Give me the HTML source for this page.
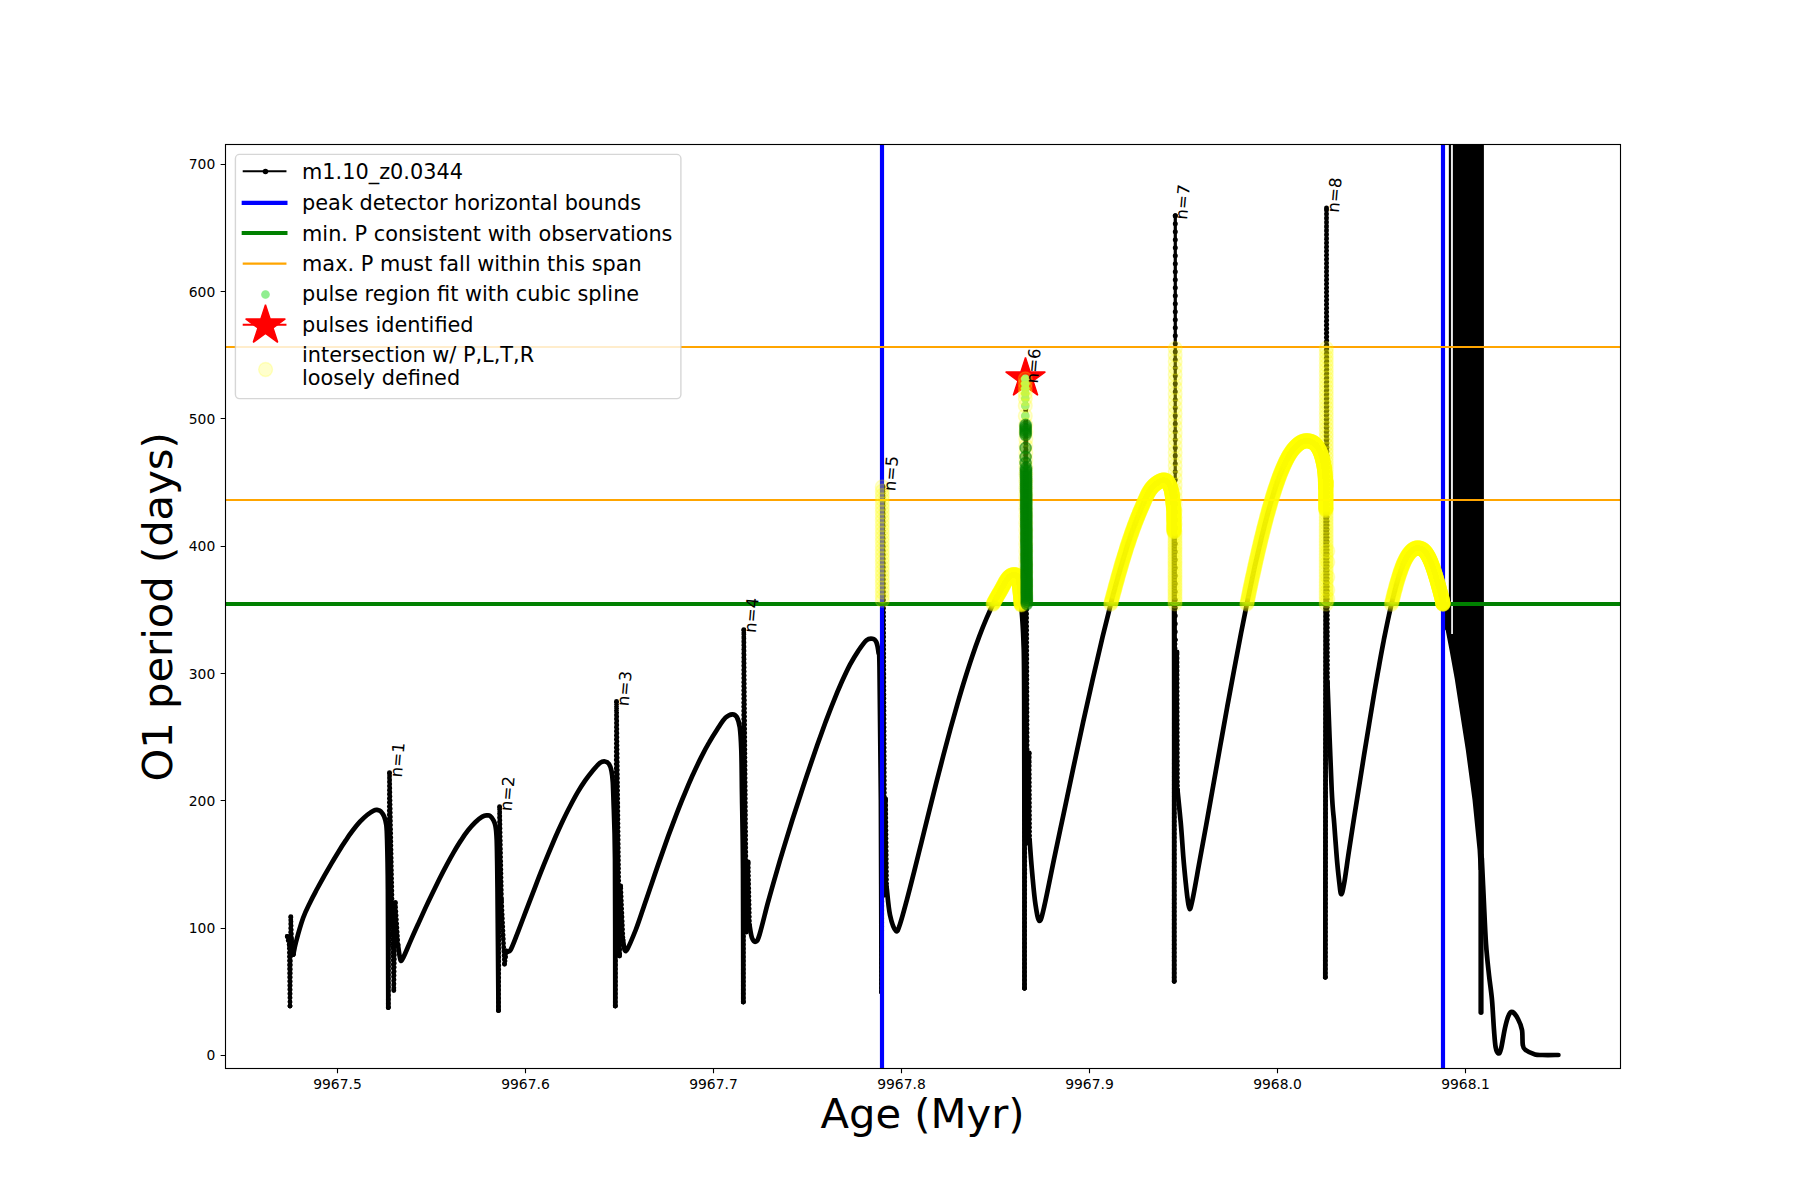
<!DOCTYPE html>
<html lang="en"><head><meta charset="utf-8"><title>O1 period vs Age</title>
<style>html,body{margin:0;padding:0;background:#fff}body{width:1800px;height:1200px;overflow:hidden}svg{display:block}text{font-family:'DejaVu Sans','Liberation Sans',sans-serif;fill:#000}</style></head>
<body>
<svg width="1800" height="1200" viewBox="0 0 1800 1200">
<rect width="1800" height="1200" fill="#fff"/>
<clipPath id="ax"><rect x="225" y="144" width="1395" height="924"/></clipPath>
<g clip-path="url(#ax)">
<g fill="none" stroke="#000" stroke-width="4.7" stroke-linecap="round" stroke-linejoin="round">
<path d="M287.3 936.5 L289.3 945 L290 1006 L290.8 916.7 L291.6 940 L293.3 954.5" stroke-width="2.7"/>
<path d="M287.3 936.5 L289.3 945 L290 1006 L290.8 916.7 L291.6 940 L293.3 954.5" stroke-width="4.9" stroke-dasharray="0 4.1"/>
<path d="M287.3 936.5h0M289.3 945h0M290 1006h0M290.8 916.7h0M291.6 940h0M293.3 954.5h0" stroke-width="4.9"/>
<path d="M293.3 954.5 C293.8 952.4 294.4 948 296 942 C297.6 935.9 300.7 924.7 303.1 918 C305.5 911.4 307.8 907.1 310.2 902.2 C312.6 897.2 315 892.9 317.3 888.5 C319.7 884 322.1 879.8 324.4 875.6 C326.8 871.4 329.2 867.3 331.5 863.3 C333.9 859.2 336.3 855.3 338.7 851.4 C341 847.6 343.4 843.9 345.8 840.4 C348.1 836.8 350.5 833.4 352.9 830.3 C355.2 827.2 357.6 824.3 360 821.7 C362.4 819.2 364.7 816.9 367.1 815 C369.5 813.1 372.5 811.2 374.2 810.4 C375.9 809.5 376.4 809.8 377.5 810 C378.6 810.2 379.7 810.2 380.8 811.3 C381.9 812.4 383.3 814.4 384.2 816.7 C385.1 819 385.8 821.1 386.3 825 C386.8 828.9 386.8 829.3 387.1 840 C387.4 850.7 387.7 861.1 387.9 889 C388.1 916.9 388.2 987.8 388.3 1007.5"/>
<path d="M388.3 1007.5 L389.5 772.8 L393.8 990.5 L395.3 902.5 L398 945" stroke-width="2.7"/>
<path d="M388.3 1007.5 L389.5 772.8 L393.8 990.5 L395.3 902.5 L398 945" stroke-width="4.9" stroke-dasharray="0 4.1"/>
<path d="M388.3 1007.5h0M389.5 772.8h0M393.8 990.5h0M395.3 902.5h0M398 945h0" stroke-width="4.9"/>
<path d="M398 945 C398.4 947.5 399.6 958 400.5 960 C401.4 962 401.8 960.3 403.5 957.1 C405.2 953.8 408.3 946 410.7 940.6 C413.1 935.2 415.5 929.8 417.9 924.6 C420.3 919.3 422.7 914 425 908.9 C427.4 903.7 429.8 898.6 432.2 893.7 C434.6 888.7 437 883.8 439.4 879 C441.8 874.2 444.2 869.5 446.6 865.1 C449 860.6 451.4 856.2 453.8 852.1 C456.2 848 458.6 844 461 840.4 C463.3 836.7 465.7 833.3 468.1 830.3 C470.5 827.2 472.9 824.5 475.3 822.2 C477.7 819.9 480.6 817.8 482.5 816.6 C484.4 815.5 485.4 815.5 486.7 815.4 C487.9 815.3 488.9 815 490 815.8 C491.1 816.6 492.4 818.3 493.3 820 C494.2 821.7 494.8 822.5 495.4 825.8 C496 829.1 496.3 829.4 496.7 840 C497.1 850.6 497.2 860.8 497.5 889.2 C497.8 917.6 498.3 990.3 498.5 1010.5"/>
<path d="M498.5 1010.5 L499.6 806.7 L501.5 900 L504.5 964.3 L506.5 951" stroke-width="2.7"/>
<path d="M498.5 1010.5 L499.6 806.7 L501.5 900 L504.5 964.3 L506.5 951" stroke-width="4.9" stroke-dasharray="0 4.1"/>
<path d="M498.5 1010.5h0M499.6 806.7h0M501.5 900h0M504.5 964.3h0M506.5 951h0" stroke-width="4.9"/>
<path d="M506.5 951 C507.2 950.8 508.6 953.2 510.5 950 C512.4 946.8 515.5 938.1 518 931.8 C520.4 925.6 522.9 918.9 525.4 912.4 C527.9 905.9 530.4 899.3 532.9 892.9 C535.4 886.4 537.8 879.9 540.3 873.6 C542.8 867.3 545.3 861.1 547.8 855.1 C550.3 849.1 552.8 843.2 555.2 837.5 C557.7 831.8 560.2 826.3 562.7 821 C565.2 815.8 567.7 810.7 570.2 806 C572.7 801.2 575.1 796.7 577.6 792.4 C580.1 788.2 582.6 784.3 585.1 780.7 C587.6 777.1 590.1 773.9 592.5 771 C595 768 597.9 764.5 600 762.9 C602.1 761.4 603.5 761.3 605 761.5 C606.5 761.7 607.9 762.4 609 764 C610.1 765.6 610.9 768 611.5 771 C612.1 774 612.5 777.2 612.8 782 C613.1 786.8 613.1 787.2 613.5 800 C613.9 812.8 614.7 824.7 615 859 C615.3 893.3 615.2 981.5 615.3 1006"/>
<path d="M615.3 1006 L616.5 701.5 L619.6 956 L620.7 886 L623 940" stroke-width="2.7"/>
<path d="M615.3 1006 L616.5 701.5 L619.6 956 L620.7 886 L623 940" stroke-width="4.9" stroke-dasharray="0 4.1"/>
<path d="M615.3 1006h0M616.5 701.5h0M619.6 956h0M620.7 886h0M623 940h0" stroke-width="4.9"/>
<path d="M623 940 C623.3 941.7 624 948.5 624.7 950 C625.5 951.5 625.7 952.2 627.5 948.9 C629.3 945.5 632.9 937 635.7 930 C638.4 923 641.1 914.6 643.8 906.7 C646.6 898.9 649.3 890.7 652 882.7 C654.7 874.7 657.4 866.7 660.2 858.9 C662.9 851.1 665.6 843.4 668.3 835.9 C671.1 828.5 673.8 821.2 676.5 814.1 C679.2 807.1 681.9 800.2 684.7 793.7 C687.4 787.1 690.1 780.8 692.8 774.8 C695.6 768.8 698.3 763 701 757.6 C703.7 752.2 706.4 747.1 709.2 742.4 C711.9 737.6 714.6 733.3 717.3 729.2 C720.1 725 723 720.2 725.5 717.7 C728 715.3 730.4 714.4 732.3 714.3 C734.2 714.2 735.5 714.8 736.8 717 C738 719.2 739 722 739.8 727.5 C740.5 733 740.9 738.8 741.3 750 C741.7 761.2 741.7 775.2 742 795 C742.3 814.8 742.8 834 743 868.5 C743.2 903 743.2 979.8 743.3 1002"/>
<path d="M743.3 1002 L743.8 629.7 L746.5 932 L748.2 862 L749.5 925" stroke-width="2.7"/>
<path d="M743.3 1002 L743.8 629.7 L746.5 932 L748.2 862 L749.5 925" stroke-width="4.9" stroke-dasharray="0 4.1"/>
<path d="M743.3 1002h0M743.8 629.7h0M746.5 932h0M748.2 862h0M749.5 925h0" stroke-width="4.9"/>
<path d="M749.5 925 C749.9 927.2 750.9 935.2 752 938 C753.1 940.8 754.6 942.1 755.9 941.6 C757.1 941.1 757.5 941.1 759.5 934.7 C761.5 928.4 765 913.5 767.7 903.4 C770.5 893.3 773.2 883.6 776 874.1 C778.7 864.6 781.4 855.5 784.2 846.4 C786.9 837.4 789.7 828.5 792.4 819.8 C795.2 811.1 797.9 802.6 800.7 794.2 C803.4 785.8 806.1 777.5 808.9 769.4 C811.6 761.3 814.4 753.3 817.1 745.5 C819.9 737.8 822.6 730.1 825.3 722.7 C828.1 715.4 830.8 708.1 833.6 701.3 C836.3 694.5 839.1 687.9 841.8 681.8 C844.6 675.7 847.3 669.9 850 664.7 C852.8 659.5 855.5 654.9 858.3 650.8 C861 646.8 864.1 642.2 866.5 640.2 C868.9 638.2 870.9 638.4 872.5 638.7 C874.1 639 875.3 639.7 876.3 642 C877.3 644.3 878 648.2 878.5 652.5 C879 656.8 879.1 642.9 879.5 667.5 C879.9 692.1 880.6 745.9 880.9 800 C881.2 854.1 881.4 960 881.5 992"/>
<path d="M881.5 992 L883 486.5 L884.8 895 L885.6 799 L886.6 887" stroke-width="2.7"/>
<path d="M881.5 992 L883 486.5 L884.8 895 L885.6 799 L886.6 887" stroke-width="4.9" stroke-dasharray="0 4.1"/>
<path d="M881.5 992h0M883 486.5h0M884.8 895h0M885.6 799h0M886.6 887h0" stroke-width="4.9"/>
<path d="M886.6 887 C887.2 891.7 888.4 907.7 890 915 C891.6 922.3 894.3 929.5 896 931 C897.7 932.5 898.1 929.6 900 924.2 C901.9 918.8 904.8 907.6 907.2 898.7 C909.6 889.7 912 880.1 914.4 870.6 C916.8 861.1 919.2 851.3 921.6 841.7 C924 832 926.4 822.2 928.8 812.6 C931.2 803 933.6 793.4 936 783.9 C938.4 774.5 940.8 765.1 943.2 756 C945.6 746.8 948 737.8 950.4 729 C952.8 720.2 955.2 711.6 957.6 703.3 C960 695 962.4 686.9 964.8 679.2 C967.2 671.5 969.6 664 972 656.9 C974.4 649.8 976.8 643 979.2 636.6 C981.6 630.2 984 624.2 986.4 618.6 C988.8 613 991.2 607.8 993.6 603.1 C996 598.4 998.4 594.5 1000.8 590.3 C1003.2 586.1 1005.7 580.6 1008 578 C1010.3 575.4 1013 574.5 1014.7 574.6 C1016.4 574.7 1017.5 575.6 1018.4 578.8 C1019.3 581.9 1019.8 589.4 1020.3 593.8 C1020.8 598.1 1020.7 597.3 1021.2 605 C1021.8 612.7 1022.9 624.2 1023.4 640 C1023.9 655.8 1024 642 1024.2 700 C1024.4 758 1024.5 940.2 1024.5 988.3"/>
<path d="M1024.5 988.3 L1025.7 378.8 L1027.5 843 L1029.2 753 L1029.6 839.7" stroke-width="2.7"/>
<path d="M1024.5 988.3 L1025.7 378.8 L1027.5 843 L1029.2 753 L1029.6 839.7" stroke-width="4.9" stroke-dasharray="0 4.1"/>
<path d="M1024.5 988.3h0M1025.7 378.8h0M1027.5 843h0M1029.2 753h0M1029.6 839.7h0" stroke-width="4.9"/>
<path d="M1029.6 839.7 C1030 845.5 1031.3 863.5 1032.3 874.3 C1033.3 885.1 1034.3 896.9 1035.5 904.7 C1036.7 912.5 1038 920.7 1039.4 921 C1040.9 921.3 1041.8 916.8 1044.2 906.6 C1046.6 896.4 1050.7 875.2 1053.9 859.7 C1057.2 844.2 1060.4 828.9 1063.7 813.5 C1066.9 798.2 1070.2 782.8 1073.4 767.6 C1076.6 752.4 1079.9 737.2 1083.1 722.3 C1086.4 707.4 1089.6 692.7 1092.9 678.4 C1096.1 664.1 1099.4 650.1 1102.6 636.7 C1105.9 623.2 1109.1 610.2 1112.3 597.9 C1115.6 585.6 1118.8 573.8 1122.1 562.9 C1125.3 552 1128.6 541.8 1131.8 532.6 C1135.1 523.4 1138.3 515.2 1141.5 507.8 C1144.8 500.4 1147.6 492.9 1151.3 488.3 C1155 483.6 1160.5 480.2 1163.7 480 C1166.9 479.8 1168.8 482.8 1170.4 487 C1171.9 491.2 1172.7 497.7 1173.3 505 C1173.9 512.3 1173.8 498.2 1174 530.7 C1174.2 563.2 1174.2 624.9 1174.2 700 C1174.2 775.1 1174.2 934.4 1174.2 981.3"/>
<path d="M1174.2 981.3 L1174.4 640" stroke-width="2.7"/>
<path d="M1174.2 981.3 L1174.4 640" stroke-width="4.9" stroke-dasharray="0 4.1"/>
<path d="M1174.2 981.3h0M1174.4 640h0" stroke-width="4.9"/>
<path d="M1175.3 215.8 L1175.2 640" stroke-width="3.2"/>
<path d="M1175.3 215.8 L1175.2 640" stroke-width="5" stroke-dasharray="0 8"/>
<path d="M1175.3 215.8h0" stroke-width="5"/>
<path d="M1175 640 L1176.3 780 L1177 652 L1177.5 790" stroke-width="2.7"/>
<path d="M1175 640 L1176.3 780 L1177 652 L1177.5 790" stroke-width="4.9" stroke-dasharray="0 4.1"/>
<path d="M1175 640h0M1176.3 780h0M1177 652h0M1177.5 790h0" stroke-width="4.9"/>
<path d="M1177.5 790 C1178 795.5 1179.8 812.2 1180.8 823.3 C1181.8 834.4 1182.5 846.7 1183.3 856.7 C1184.1 866.7 1185.1 876.4 1185.8 883.3 C1186.5 890.2 1186.9 894 1187.5 898.3 C1188.1 902.6 1188.7 908.7 1189.5 909 C1190.3 909.3 1190.8 907.6 1192.5 899.8 C1194.2 892 1197.1 874.8 1199.4 862.2 C1201.7 849.5 1204 836.7 1206.4 823.9 C1208.7 811 1211 798 1213.3 785.1 C1215.6 772.1 1217.9 759.1 1220.2 746.2 C1222.5 733.3 1224.8 720.3 1227.1 707.6 C1229.4 694.9 1231.8 682.2 1234.1 669.9 C1236.4 657.5 1238.7 645.3 1241 633.4 C1243.3 621.5 1245.6 609.9 1247.9 598.7 C1250.2 587.5 1252.5 576.6 1254.8 566.2 C1257.2 555.9 1259.5 545.9 1261.8 536.5 C1264.1 527.1 1266.4 518.2 1268.7 510 C1271 501.7 1273.3 494.1 1275.6 487.1 C1277.9 480.2 1280.2 473.9 1282.6 468.5 C1284.9 463.1 1287.2 458.4 1289.5 454.6 C1291.8 450.8 1294.1 448 1296.4 445.8 C1298.7 443.6 1301 442 1303.3 441.3 C1305.6 440.5 1308.1 440.6 1310.2 441.2 C1312.3 441.9 1314.3 442.8 1316.1 445 C1317.9 447.2 1319.7 450.3 1321.1 454.4 C1322.5 458.5 1323.8 464.1 1324.5 469.4 C1325.3 474.7 1325.4 479.7 1325.6 486.2 C1325.8 492.8 1325.8 456.5 1325.8 508.8 C1325.8 561 1325.6 721.9 1325.5 800 C1325.4 878.1 1325.4 947.7 1325.3 977.2"/>
<path d="M1325.3 977.2 L1326.5 208 L1327.5 683" stroke-width="2.7"/>
<path d="M1325.3 977.2 L1326.5 208 L1327.5 683" stroke-width="4.9" stroke-dasharray="0 4.1"/>
<path d="M1325.3 977.2h0M1326.5 208h0M1327.5 683h0" stroke-width="4.9"/>
<path d="M1327.5 683 C1328.2 700.8 1330.6 766.6 1331.7 790 C1332.8 813.4 1333.4 812.2 1334.2 823.3 C1335 834.4 1335.9 847 1336.7 856.7 C1337.5 866.4 1338.5 875.5 1339.2 881.7 C1340 888 1340.4 894 1341.2 894.2 C1342 894.4 1342.9 890.6 1344.2 883.2 C1345.5 875.7 1347.5 860.3 1349.2 849.4 C1350.8 838.5 1352.5 828.2 1354.1 817.7 C1355.8 807.2 1357.4 796.8 1359.1 786.4 C1360.7 776 1362.4 765.7 1364 755.4 C1365.7 745.1 1367.3 734.9 1369 724.8 C1370.6 714.8 1372.3 704.8 1373.9 695.1 C1375.6 685.4 1377.2 675.8 1378.9 666.7 C1380.5 657.5 1382.2 648.6 1383.8 640.1 C1385.5 631.6 1387.1 623.5 1388.8 615.9 C1390.5 608.3 1392.1 601.1 1393.8 594.6 C1395.4 588.1 1397.1 582.1 1398.7 576.8 C1400.4 571.6 1402 566.9 1403.7 563.1 C1405.3 559.3 1407 556.4 1408.6 554.1 C1410.3 551.8 1411.9 550.2 1413.6 549.2 C1415.2 548.2 1416.8 547.8 1418.6 548 C1420.4 548.2 1422.5 548.9 1424.3 550.7 C1426.1 552.5 1427.7 555.2 1429.4 558.7 C1431.1 562.2 1432.8 566.9 1434.5 572 C1436.1 577.1 1438.1 584 1439.5 589.3 C1440.9 594.6 1441.8 597.5 1443.1 604 C1444.4 610.5 1446.3 624 1447 628"/>
<path d="M1481.8 858 C1482.1 864.7 1483 883.7 1483.7 898 C1484.4 912.3 1485.1 931.2 1486 944 C1486.9 956.8 1488 965.7 1489 975 C1490 984.3 1491.2 990.8 1492 1000 C1492.8 1009.2 1493.4 1022.2 1494 1030 C1494.6 1037.8 1494.9 1043.1 1495.6 1047 C1496.3 1050.9 1497.5 1053.1 1498.4 1053.4 C1499.3 1053.7 1499.9 1053.2 1501 1049 C1502.1 1044.8 1503.7 1033.7 1505 1028 C1506.3 1022.3 1507.5 1017.7 1508.8 1015 C1510 1012.3 1511 1011.3 1512.5 1012 C1514 1012.7 1516.4 1016 1518 1019 C1519.6 1022 1521.2 1025.7 1522 1030 C1522.8 1034.3 1522.2 1041.7 1522.8 1045 C1523.4 1048.3 1523.6 1048.4 1525.6 1050 C1527.6 1051.6 1532.2 1053.6 1535 1054.4 C1537.8 1055.2 1538.6 1054.9 1542.5 1055 C1546.4 1055.1 1555.8 1055 1558.4 1055"/>
</g>
<path d="M1481 855 L1481 1012.3" fill="none" stroke="#000" stroke-width="5.2" stroke-linecap="round" stroke-linejoin="round"/>
<path d="M1452.9 140 L1483.9 140 L1483.9 860 L1481 870 L1478.6 870 L1477.5 850 L1472.5 800 L1465.8 750 L1458 700 L1454.8 679.3 L1449.5 650 L1445 626.8 L1443 612 L1443 604 L1451.2 604 L1451.2 634 L1452.9 634 Z" fill="#000"/>
<path d="M1449.9 140 V608" stroke="#000" stroke-width="2.1" fill="none"/>
<path d="M1452 140 V600" stroke="#999" stroke-width="0.35" fill="none"/>
<path d="M882 144V1068M1443 144V1068" stroke="#00f" stroke-width="4.17" fill="none"/>
<path d="M225 604H1620" stroke="#008000" stroke-width="4.17" fill="none"/>
<path d="M225 347H1620M225 500H1620" stroke="#ffa500" stroke-width="2.08" fill="none"/>
<path d="M1025.50 357.57 L1030.18 371.96 L1045.31 371.96 L1033.07 380.86 L1037.74 395.25 L1025.50 386.36 L1013.26 395.25 L1017.93 380.86 L1005.69 371.96 L1020.82 371.96Z" fill="#f00" stroke="#f00" stroke-width="1.39" stroke-linejoin="bevel"/>
<g fill="#90ee90" stroke="#90ee90" stroke-width="1.39">
<circle cx="1025.3" cy="378.8" r="3.65"/>
<circle cx="1025.3" cy="383.5" r="3.65"/>
<circle cx="1025.3" cy="388.5" r="3.65"/>
<circle cx="1025.3" cy="393.5" r="3.65"/>
<circle cx="1025.3" cy="398.5" r="3.65"/>
<circle cx="1025.3" cy="405.7" r="3.65"/>
<circle cx="1025.3" cy="415.9" r="3.65"/>
</g>
<g fill="#ff0" fill-opacity=".2" stroke="#ff0" stroke-opacity=".2" stroke-width="1.39">
<circle cx="882.3" cy="487" r="6.94"/>
<circle cx="882.3" cy="491.2" r="6.94"/>
<circle cx="882.3" cy="495.4" r="6.94"/>
<circle cx="882.3" cy="499.6" r="6.94"/>
<circle cx="882.3" cy="503.8" r="6.94"/>
<circle cx="882.3" cy="508" r="6.94"/>
<circle cx="882.3" cy="512.2" r="6.94"/>
<circle cx="882.3" cy="516.4" r="6.94"/>
<circle cx="882.3" cy="520.6" r="6.94"/>
<circle cx="882.3" cy="524.8" r="6.94"/>
<circle cx="882.3" cy="529" r="6.94"/>
<circle cx="882.3" cy="533.2" r="6.94"/>
<circle cx="882.3" cy="537.4" r="6.94"/>
<circle cx="882.3" cy="541.6" r="6.94"/>
<circle cx="882.3" cy="545.8" r="6.94"/>
<circle cx="882.3" cy="550" r="6.94"/>
<circle cx="882.3" cy="554.2" r="6.94"/>
<circle cx="882.3" cy="558.4" r="6.94"/>
<circle cx="882.3" cy="562.6" r="6.94"/>
<circle cx="882.3" cy="566.8" r="6.94"/>
<circle cx="882.3" cy="571" r="6.94"/>
<circle cx="882.3" cy="575.2" r="6.94"/>
<circle cx="882.3" cy="579.4" r="6.94"/>
<circle cx="882.3" cy="583.6" r="6.94"/>
<circle cx="882.3" cy="587.8" r="6.94"/>
<circle cx="882.3" cy="592" r="6.94"/>
<circle cx="882.3" cy="596.2" r="6.94"/>
<circle cx="882.3" cy="600.4" r="6.94"/>
<circle cx="993" cy="604.3" r="6.94"/>
<circle cx="993.3" cy="603.6" r="6.94"/>
<circle cx="993.6" cy="603" r="6.94"/>
<circle cx="993.9" cy="602.4" r="6.94"/>
<circle cx="994.3" cy="601.8" r="6.94"/>
<circle cx="994.6" cy="601.2" r="6.94"/>
<circle cx="994.9" cy="600.6" r="6.94"/>
<circle cx="995.2" cy="600" r="6.94"/>
<circle cx="995.6" cy="599.4" r="6.94"/>
<circle cx="995.9" cy="598.8" r="6.94"/>
<circle cx="996.2" cy="598.3" r="6.94"/>
<circle cx="996.5" cy="597.7" r="6.94"/>
<circle cx="996.8" cy="597.1" r="6.94"/>
<circle cx="997.2" cy="596.6" r="6.94"/>
<circle cx="997.5" cy="596" r="6.94"/>
<circle cx="997.8" cy="595.5" r="6.94"/>
<circle cx="998.1" cy="594.9" r="6.94"/>
<circle cx="998.4" cy="594.4" r="6.94"/>
<circle cx="998.8" cy="593.8" r="6.94"/>
<circle cx="999.1" cy="593.3" r="6.94"/>
<circle cx="999.4" cy="592.7" r="6.94"/>
<circle cx="999.7" cy="592.2" r="6.94"/>
<circle cx="1000.1" cy="591.6" r="6.94"/>
<circle cx="1000.4" cy="591.1" r="6.94"/>
<circle cx="1000.7" cy="590.5" r="6.94"/>
<circle cx="1001" cy="590" r="6.94"/>
<circle cx="1001.3" cy="589.4" r="6.94"/>
<circle cx="1001.6" cy="588.8" r="6.94"/>
<circle cx="1002" cy="588.2" r="6.94"/>
<circle cx="1002.3" cy="587.6" r="6.94"/>
<circle cx="1002.6" cy="587" r="6.94"/>
<circle cx="1002.9" cy="586.4" r="6.94"/>
<circle cx="1003.3" cy="585.8" r="6.94"/>
<circle cx="1003.6" cy="585.2" r="6.94"/>
<circle cx="1003.9" cy="584.6" r="6.94"/>
<circle cx="1004.2" cy="584" r="6.94"/>
<circle cx="1004.5" cy="583.4" r="6.94"/>
<circle cx="1004.9" cy="582.8" r="6.94"/>
<circle cx="1005.2" cy="582.2" r="6.94"/>
<circle cx="1005.5" cy="581.6" r="6.94"/>
<circle cx="1005.8" cy="581.1" r="6.94"/>
<circle cx="1006.1" cy="580.6" r="6.94"/>
<circle cx="1006.5" cy="580.1" r="6.94"/>
<circle cx="1006.8" cy="579.6" r="6.94"/>
<circle cx="1007.1" cy="579.1" r="6.94"/>
<circle cx="1007.5" cy="578.6" r="6.94"/>
<circle cx="1007.8" cy="578.2" r="6.94"/>
<circle cx="1008.2" cy="577.8" r="6.94"/>
<circle cx="1008.5" cy="577.5" r="6.94"/>
<circle cx="1008.8" cy="577.2" r="6.94"/>
<circle cx="1009.1" cy="576.9" r="6.94"/>
<circle cx="1009.4" cy="576.6" r="6.94"/>
<circle cx="1009.7" cy="576.4" r="6.94"/>
<circle cx="1010.1" cy="576.1" r="6.94"/>
<circle cx="1010.4" cy="575.9" r="6.94"/>
<circle cx="1010.7" cy="575.7" r="6.94"/>
<circle cx="1011" cy="575.5" r="6.94"/>
<circle cx="1011.3" cy="575.4" r="6.94"/>
<circle cx="1011.6" cy="575.2" r="6.94"/>
<circle cx="1012" cy="575.1" r="6.94"/>
<circle cx="1012.3" cy="575" r="6.94"/>
<circle cx="1012.6" cy="574.9" r="6.94"/>
<circle cx="1013" cy="574.8" r="6.94"/>
<circle cx="1013.4" cy="574.7" r="6.94"/>
<circle cx="1013.7" cy="574.6" r="6.94"/>
<circle cx="1014.1" cy="574.6" r="6.94"/>
<circle cx="1014.3" cy="574.6" r="6.94"/>
<circle cx="1014.7" cy="574.6" r="6.94"/>
<circle cx="1015" cy="574.6" r="6.94"/>
<circle cx="1015.4" cy="574.7" r="6.94"/>
<circle cx="1015.7" cy="574.8" r="6.94"/>
<circle cx="1016" cy="574.9" r="6.94"/>
<circle cx="1016.3" cy="575.1" r="6.94"/>
<circle cx="1016.6" cy="575.3" r="6.94"/>
<circle cx="1016.8" cy="575.5" r="6.94"/>
<circle cx="1017.1" cy="575.8" r="6.94"/>
<circle cx="1017.3" cy="576.1" r="6.94"/>
<circle cx="1017.5" cy="576.4" r="6.94"/>
<circle cx="1017.6" cy="576.6" r="6.94"/>
<circle cx="1017.7" cy="576.9" r="6.94"/>
<circle cx="1017.9" cy="577.2" r="6.94"/>
<circle cx="1018" cy="577.6" r="6.94"/>
<circle cx="1018.1" cy="577.9" r="6.94"/>
<circle cx="1018.2" cy="578.2" r="6.94"/>
<circle cx="1018.3" cy="578.5" r="6.94"/>
<circle cx="1018.4" cy="578.8" r="6.94"/>
<circle cx="1018.5" cy="579.1" r="6.94"/>
<circle cx="1018.6" cy="579.5" r="6.94"/>
<circle cx="1018.7" cy="579.8" r="6.94"/>
<circle cx="1018.7" cy="580.1" r="6.94"/>
<circle cx="1018.8" cy="580.5" r="6.94"/>
<circle cx="1018.9" cy="580.8" r="6.94"/>
<circle cx="1018.9" cy="581.1" r="6.94"/>
<circle cx="1019" cy="581.4" r="6.94"/>
<circle cx="1019" cy="581.8" r="6.94"/>
<circle cx="1019.1" cy="582.1" r="6.94"/>
<circle cx="1019.1" cy="582.5" r="6.94"/>
<circle cx="1019.2" cy="582.8" r="6.94"/>
<circle cx="1019.2" cy="583.1" r="6.94"/>
<circle cx="1019.2" cy="583.4" r="6.94"/>
<circle cx="1019.3" cy="583.7" r="6.94"/>
<circle cx="1019.3" cy="584" r="6.94"/>
<circle cx="1019.4" cy="584.4" r="6.94"/>
<circle cx="1019.4" cy="584.7" r="6.94"/>
<circle cx="1019.4" cy="585" r="6.94"/>
<circle cx="1019.5" cy="585.3" r="6.94"/>
<circle cx="1019.5" cy="585.6" r="6.94"/>
<circle cx="1019.5" cy="586" r="6.94"/>
<circle cx="1019.6" cy="586.3" r="6.94"/>
<circle cx="1019.6" cy="586.6" r="6.94"/>
<circle cx="1019.6" cy="587" r="6.94"/>
<circle cx="1019.7" cy="587.3" r="6.94"/>
<circle cx="1019.7" cy="587.6" r="6.94"/>
<circle cx="1019.7" cy="587.9" r="6.94"/>
<circle cx="1019.8" cy="588.3" r="6.94"/>
<circle cx="1019.8" cy="588.6" r="6.94"/>
<circle cx="1019.8" cy="588.9" r="6.94"/>
<circle cx="1019.9" cy="589.2" r="6.94"/>
<circle cx="1019.9" cy="589.6" r="6.94"/>
<circle cx="1019.9" cy="589.9" r="6.94"/>
<circle cx="1020" cy="590.2" r="6.94"/>
<circle cx="1020" cy="590.5" r="6.94"/>
<circle cx="1020" cy="590.8" r="6.94"/>
<circle cx="1020" cy="591.1" r="6.94"/>
<circle cx="1020.1" cy="591.4" r="6.94"/>
<circle cx="1020.1" cy="591.7" r="6.94"/>
<circle cx="1020.1" cy="592.1" r="6.94"/>
<circle cx="1020.2" cy="592.5" r="6.94"/>
<circle cx="1020.2" cy="592.8" r="6.94"/>
<circle cx="1020.2" cy="593.2" r="6.94"/>
<circle cx="1020.3" cy="593.5" r="6.94"/>
<circle cx="1020.3" cy="593.8" r="6.94"/>
<circle cx="1020.3" cy="594.1" r="6.94"/>
<circle cx="1020.4" cy="594.5" r="6.94"/>
<circle cx="1020.4" cy="594.8" r="6.94"/>
<circle cx="1020.4" cy="595.1" r="6.94"/>
<circle cx="1020.5" cy="595.5" r="6.94"/>
<circle cx="1020.5" cy="595.8" r="6.94"/>
<circle cx="1020.6" cy="596.2" r="6.94"/>
<circle cx="1020.6" cy="596.5" r="6.94"/>
<circle cx="1020.6" cy="596.8" r="6.94"/>
<circle cx="1020.7" cy="597.2" r="6.94"/>
<circle cx="1020.7" cy="597.6" r="6.94"/>
<circle cx="1020.7" cy="597.9" r="6.94"/>
<circle cx="1020.8" cy="598.2" r="6.94"/>
<circle cx="1020.8" cy="598.6" r="6.94"/>
<circle cx="1020.8" cy="598.9" r="6.94"/>
<circle cx="1020.9" cy="599.3" r="6.94"/>
<circle cx="1020.9" cy="599.6" r="6.94"/>
<circle cx="1020.9" cy="599.9" r="6.94"/>
<circle cx="1020.9" cy="600.3" r="6.94"/>
<circle cx="1020.9" cy="600.6" r="6.94"/>
<circle cx="1021" cy="600.9" r="6.94"/>
<circle cx="1021" cy="601.2" r="6.94"/>
<circle cx="1021" cy="601.6" r="6.94"/>
<circle cx="1021" cy="601.9" r="6.94"/>
<circle cx="1021.1" cy="602.3" r="6.94"/>
<circle cx="1021.1" cy="602.6" r="6.94"/>
<circle cx="1021.1" cy="602.9" r="6.94"/>
<circle cx="1021.1" cy="603.3" r="6.94"/>
<circle cx="1021.2" cy="603.7" r="6.94"/>
<circle cx="1021.2" cy="604" r="6.94"/>
<circle cx="1021.2" cy="604.3" r="6.94"/>
<circle cx="1021.2" cy="604.7" r="6.94"/>
<circle cx="1021.2" cy="605" r="6.94"/>
<circle cx="1025.3" cy="378.8" r="6.94"/>
<circle cx="1025.3" cy="383.5" r="6.94"/>
<circle cx="1025.3" cy="388.5" r="6.94"/>
<circle cx="1025.3" cy="393.5" r="6.94"/>
<circle cx="1025.3" cy="398.5" r="6.94"/>
<circle cx="1025.3" cy="405.7" r="6.94"/>
<circle cx="1025.3" cy="415.9" r="6.94"/>
<circle cx="1025.8" cy="425" r="6.94"/>
<circle cx="1025.8" cy="432" r="6.94"/>
<circle cx="1025.8" cy="439" r="6.94"/>
<circle cx="1025.8" cy="446" r="6.94"/>
<circle cx="1025.8" cy="453" r="6.94"/>
<circle cx="1025.8" cy="460" r="6.94"/>
<circle cx="1025.8" cy="467" r="6.94"/>
<circle cx="1025.8" cy="474" r="6.94"/>
<circle cx="1025.8" cy="481" r="6.94"/>
<circle cx="1025.8" cy="488" r="6.94"/>
<circle cx="1025.8" cy="495" r="6.94"/>
<circle cx="1025.8" cy="502" r="6.94"/>
<circle cx="1025.8" cy="509" r="6.94"/>
<circle cx="1025.8" cy="516" r="6.94"/>
<circle cx="1025.8" cy="523" r="6.94"/>
<circle cx="1025.8" cy="530" r="6.94"/>
<circle cx="1025.8" cy="537" r="6.94"/>
<circle cx="1025.8" cy="544" r="6.94"/>
<circle cx="1025.8" cy="551" r="6.94"/>
<circle cx="1025.8" cy="558" r="6.94"/>
<circle cx="1025.8" cy="565" r="6.94"/>
<circle cx="1025.8" cy="572" r="6.94"/>
<circle cx="1025.8" cy="579" r="6.94"/>
<circle cx="1025.8" cy="586" r="6.94"/>
<circle cx="1025.8" cy="593" r="6.94"/>
<circle cx="1025.8" cy="600" r="6.94"/>
<circle cx="1110.7" cy="604.2" r="6.94"/>
<circle cx="1111" cy="603.1" r="6.94"/>
<circle cx="1111.3" cy="601.9" r="6.94"/>
<circle cx="1111.6" cy="600.8" r="6.94"/>
<circle cx="1111.9" cy="599.6" r="6.94"/>
<circle cx="1112.2" cy="598.5" r="6.94"/>
<circle cx="1112.5" cy="597.3" r="6.94"/>
<circle cx="1112.8" cy="596.1" r="6.94"/>
<circle cx="1113.1" cy="594.9" r="6.94"/>
<circle cx="1113.4" cy="593.8" r="6.94"/>
<circle cx="1113.8" cy="592.6" r="6.94"/>
<circle cx="1114.1" cy="591.4" r="6.94"/>
<circle cx="1114.4" cy="590.3" r="6.94"/>
<circle cx="1114.7" cy="589.1" r="6.94"/>
<circle cx="1115" cy="588" r="6.94"/>
<circle cx="1115.3" cy="586.8" r="6.94"/>
<circle cx="1115.6" cy="585.7" r="6.94"/>
<circle cx="1115.9" cy="584.5" r="6.94"/>
<circle cx="1116.2" cy="583.4" r="6.94"/>
<circle cx="1116.6" cy="582.3" r="6.94"/>
<circle cx="1116.9" cy="581.1" r="6.94"/>
<circle cx="1117.2" cy="580" r="6.94"/>
<circle cx="1117.5" cy="578.9" r="6.94"/>
<circle cx="1117.8" cy="577.8" r="6.94"/>
<circle cx="1118.1" cy="576.7" r="6.94"/>
<circle cx="1118.4" cy="575.5" r="6.94"/>
<circle cx="1118.7" cy="574.4" r="6.94"/>
<circle cx="1119" cy="573.3" r="6.94"/>
<circle cx="1119.4" cy="572.3" r="6.94"/>
<circle cx="1119.7" cy="571.2" r="6.94"/>
<circle cx="1120" cy="570.1" r="6.94"/>
<circle cx="1120.3" cy="569" r="6.94"/>
<circle cx="1120.6" cy="567.9" r="6.94"/>
<circle cx="1120.9" cy="566.9" r="6.94"/>
<circle cx="1121.2" cy="565.8" r="6.94"/>
<circle cx="1121.5" cy="564.7" r="6.94"/>
<circle cx="1121.8" cy="563.7" r="6.94"/>
<circle cx="1122.2" cy="562.7" r="6.94"/>
<circle cx="1122.5" cy="561.6" r="6.94"/>
<circle cx="1122.8" cy="560.6" r="6.94"/>
<circle cx="1123.1" cy="559.6" r="6.94"/>
<circle cx="1123.4" cy="558.5" r="6.94"/>
<circle cx="1123.7" cy="557.5" r="6.94"/>
<circle cx="1124" cy="556.5" r="6.94"/>
<circle cx="1124.3" cy="555.5" r="6.94"/>
<circle cx="1124.6" cy="554.5" r="6.94"/>
<circle cx="1125" cy="553.5" r="6.94"/>
<circle cx="1125.3" cy="552.5" r="6.94"/>
<circle cx="1125.6" cy="551.5" r="6.94"/>
<circle cx="1125.9" cy="550.5" r="6.94"/>
<circle cx="1126.2" cy="549.5" r="6.94"/>
<circle cx="1126.5" cy="548.5" r="6.94"/>
<circle cx="1126.8" cy="547.5" r="6.94"/>
<circle cx="1127.1" cy="546.6" r="6.94"/>
<circle cx="1127.4" cy="545.6" r="6.94"/>
<circle cx="1127.8" cy="544.6" r="6.94"/>
<circle cx="1128.1" cy="543.7" r="6.94"/>
<circle cx="1128.4" cy="542.7" r="6.94"/>
<circle cx="1128.7" cy="541.8" r="6.94"/>
<circle cx="1129" cy="540.8" r="6.94"/>
<circle cx="1129.3" cy="539.9" r="6.94"/>
<circle cx="1129.6" cy="539" r="6.94"/>
<circle cx="1129.9" cy="538.1" r="6.94"/>
<circle cx="1130.2" cy="537.1" r="6.94"/>
<circle cx="1130.6" cy="536.2" r="6.94"/>
<circle cx="1130.9" cy="535.3" r="6.94"/>
<circle cx="1131.2" cy="534.4" r="6.94"/>
<circle cx="1131.5" cy="533.5" r="6.94"/>
<circle cx="1131.8" cy="532.7" r="6.94"/>
<circle cx="1132.1" cy="531.8" r="6.94"/>
<circle cx="1132.4" cy="530.9" r="6.94"/>
<circle cx="1132.7" cy="530" r="6.94"/>
<circle cx="1133.1" cy="529.1" r="6.94"/>
<circle cx="1133.4" cy="528.2" r="6.94"/>
<circle cx="1133.7" cy="527.4" r="6.94"/>
<circle cx="1134" cy="526.5" r="6.94"/>
<circle cx="1134.3" cy="525.7" r="6.94"/>
<circle cx="1134.6" cy="524.8" r="6.94"/>
<circle cx="1135" cy="524" r="6.94"/>
<circle cx="1135.3" cy="523.1" r="6.94"/>
<circle cx="1135.6" cy="522.3" r="6.94"/>
<circle cx="1135.9" cy="521.5" r="6.94"/>
<circle cx="1136.2" cy="520.7" r="6.94"/>
<circle cx="1136.6" cy="519.9" r="6.94"/>
<circle cx="1136.9" cy="519" r="6.94"/>
<circle cx="1137.2" cy="518.2" r="6.94"/>
<circle cx="1137.5" cy="517.4" r="6.94"/>
<circle cx="1137.8" cy="516.7" r="6.94"/>
<circle cx="1138.1" cy="515.9" r="6.94"/>
<circle cx="1138.5" cy="515.1" r="6.94"/>
<circle cx="1138.8" cy="514.3" r="6.94"/>
<circle cx="1139.1" cy="513.5" r="6.94"/>
<circle cx="1139.4" cy="512.8" r="6.94"/>
<circle cx="1139.7" cy="512" r="6.94"/>
<circle cx="1140" cy="511.3" r="6.94"/>
<circle cx="1140.4" cy="510.5" r="6.94"/>
<circle cx="1140.7" cy="509.8" r="6.94"/>
<circle cx="1141" cy="509.1" r="6.94"/>
<circle cx="1141.3" cy="508.3" r="6.94"/>
<circle cx="1141.6" cy="507.6" r="6.94"/>
<circle cx="1141.9" cy="506.9" r="6.94"/>
<circle cx="1142.2" cy="506.2" r="6.94"/>
<circle cx="1142.6" cy="505.4" r="6.94"/>
<circle cx="1142.9" cy="504.7" r="6.94"/>
<circle cx="1143.2" cy="503.9" r="6.94"/>
<circle cx="1143.5" cy="503.2" r="6.94"/>
<circle cx="1143.8" cy="502.5" r="6.94"/>
<circle cx="1144.2" cy="501.7" r="6.94"/>
<circle cx="1144.5" cy="501" r="6.94"/>
<circle cx="1144.8" cy="500.3" r="6.94"/>
<circle cx="1145.1" cy="499.6" r="6.94"/>
<circle cx="1145.4" cy="498.8" r="6.94"/>
<circle cx="1145.7" cy="498.1" r="6.94"/>
<circle cx="1146" cy="497.4" r="6.94"/>
<circle cx="1146.4" cy="496.8" r="6.94"/>
<circle cx="1146.7" cy="496.1" r="6.94"/>
<circle cx="1147" cy="495.4" r="6.94"/>
<circle cx="1147.3" cy="494.8" r="6.94"/>
<circle cx="1147.6" cy="494.2" r="6.94"/>
<circle cx="1147.9" cy="493.6" r="6.94"/>
<circle cx="1148.2" cy="493" r="6.94"/>
<circle cx="1148.5" cy="492.5" r="6.94"/>
<circle cx="1148.8" cy="491.9" r="6.94"/>
<circle cx="1149.2" cy="491.4" r="6.94"/>
<circle cx="1149.5" cy="490.8" r="6.94"/>
<circle cx="1149.8" cy="490.3" r="6.94"/>
<circle cx="1150.2" cy="489.8" r="6.94"/>
<circle cx="1150.5" cy="489.3" r="6.94"/>
<circle cx="1150.8" cy="488.9" r="6.94"/>
<circle cx="1151.2" cy="488.4" r="6.94"/>
<circle cx="1151.5" cy="488" r="6.94"/>
<circle cx="1151.8" cy="487.6" r="6.94"/>
<circle cx="1152.1" cy="487.3" r="6.94"/>
<circle cx="1152.4" cy="486.9" r="6.94"/>
<circle cx="1152.8" cy="486.6" r="6.94"/>
<circle cx="1153.1" cy="486.2" r="6.94"/>
<circle cx="1153.5" cy="485.9" r="6.94"/>
<circle cx="1153.8" cy="485.5" r="6.94"/>
<circle cx="1154.1" cy="485.2" r="6.94"/>
<circle cx="1154.4" cy="484.9" r="6.94"/>
<circle cx="1154.8" cy="484.7" r="6.94"/>
<circle cx="1155.1" cy="484.4" r="6.94"/>
<circle cx="1155.4" cy="484.2" r="6.94"/>
<circle cx="1155.7" cy="483.9" r="6.94"/>
<circle cx="1156" cy="483.7" r="6.94"/>
<circle cx="1156.3" cy="483.4" r="6.94"/>
<circle cx="1156.6" cy="483.2" r="6.94"/>
<circle cx="1156.9" cy="483" r="6.94"/>
<circle cx="1157.2" cy="482.8" r="6.94"/>
<circle cx="1157.6" cy="482.6" r="6.94"/>
<circle cx="1157.9" cy="482.4" r="6.94"/>
<circle cx="1158.2" cy="482.2" r="6.94"/>
<circle cx="1158.5" cy="482" r="6.94"/>
<circle cx="1158.8" cy="481.8" r="6.94"/>
<circle cx="1159.1" cy="481.6" r="6.94"/>
<circle cx="1159.4" cy="481.5" r="6.94"/>
<circle cx="1159.7" cy="481.3" r="6.94"/>
<circle cx="1160.1" cy="481.1" r="6.94"/>
<circle cx="1160.4" cy="481" r="6.94"/>
<circle cx="1160.7" cy="480.8" r="6.94"/>
<circle cx="1161.1" cy="480.7" r="6.94"/>
<circle cx="1161.4" cy="480.5" r="6.94"/>
<circle cx="1161.8" cy="480.4" r="6.94"/>
<circle cx="1162.2" cy="480.3" r="6.94"/>
<circle cx="1162.5" cy="480.2" r="6.94"/>
<circle cx="1162.8" cy="480.1" r="6.94"/>
<circle cx="1163.2" cy="480.1" r="6.94"/>
<circle cx="1163.5" cy="480" r="6.94"/>
<circle cx="1163.8" cy="480" r="6.94"/>
<circle cx="1164" cy="480" r="6.94"/>
<circle cx="1164.4" cy="480" r="6.94"/>
<circle cx="1164.7" cy="480.1" r="6.94"/>
<circle cx="1165.1" cy="480.1" r="6.94"/>
<circle cx="1165.5" cy="480.3" r="6.94"/>
<circle cx="1165.8" cy="480.4" r="6.94"/>
<circle cx="1166.2" cy="480.6" r="6.94"/>
<circle cx="1166.5" cy="480.8" r="6.94"/>
<circle cx="1166.8" cy="481" r="6.94"/>
<circle cx="1167" cy="481.2" r="6.94"/>
<circle cx="1167.3" cy="481.5" r="6.94"/>
<circle cx="1167.5" cy="481.7" r="6.94"/>
<circle cx="1167.7" cy="481.9" r="6.94"/>
<circle cx="1167.9" cy="482.2" r="6.94"/>
<circle cx="1168.1" cy="482.5" r="6.94"/>
<circle cx="1168.3" cy="482.8" r="6.94"/>
<circle cx="1168.5" cy="483.1" r="6.94"/>
<circle cx="1168.6" cy="483.3" r="6.94"/>
<circle cx="1168.8" cy="483.6" r="6.94"/>
<circle cx="1169" cy="483.9" r="6.94"/>
<circle cx="1169.1" cy="484.1" r="6.94"/>
<circle cx="1169.3" cy="484.4" r="6.94"/>
<circle cx="1169.4" cy="484.7" r="6.94"/>
<circle cx="1169.5" cy="485" r="6.94"/>
<circle cx="1169.7" cy="485.4" r="6.94"/>
<circle cx="1169.8" cy="485.7" r="6.94"/>
<circle cx="1170" cy="486" r="6.94"/>
<circle cx="1170.1" cy="486.3" r="6.94"/>
<circle cx="1170.2" cy="486.7" r="6.94"/>
<circle cx="1170.4" cy="487" r="6.94"/>
<circle cx="1170.5" cy="487.4" r="6.94"/>
<circle cx="1170.6" cy="487.7" r="6.94"/>
<circle cx="1170.7" cy="487.9" r="6.94"/>
<circle cx="1170.8" cy="488.2" r="6.94"/>
<circle cx="1170.9" cy="488.5" r="6.94"/>
<circle cx="1171" cy="488.9" r="6.94"/>
<circle cx="1171.1" cy="489.2" r="6.94"/>
<circle cx="1171.1" cy="489.5" r="6.94"/>
<circle cx="1171.2" cy="489.8" r="6.94"/>
<circle cx="1171.3" cy="490.2" r="6.94"/>
<circle cx="1171.4" cy="490.5" r="6.94"/>
<circle cx="1171.5" cy="490.8" r="6.94"/>
<circle cx="1171.5" cy="491.2" r="6.94"/>
<circle cx="1171.6" cy="491.5" r="6.94"/>
<circle cx="1171.7" cy="491.8" r="6.94"/>
<circle cx="1171.7" cy="492.1" r="6.94"/>
<circle cx="1171.8" cy="492.4" r="6.94"/>
<circle cx="1171.8" cy="492.7" r="6.94"/>
<circle cx="1171.9" cy="493" r="6.94"/>
<circle cx="1171.9" cy="493.3" r="6.94"/>
<circle cx="1172" cy="493.7" r="6.94"/>
<circle cx="1172.1" cy="494" r="6.94"/>
<circle cx="1172.1" cy="494.3" r="6.94"/>
<circle cx="1172.2" cy="494.6" r="6.94"/>
<circle cx="1172.2" cy="495" r="6.94"/>
<circle cx="1172.3" cy="495.3" r="6.94"/>
<circle cx="1172.3" cy="495.6" r="6.94"/>
<circle cx="1172.3" cy="496" r="6.94"/>
<circle cx="1172.4" cy="496.3" r="6.94"/>
<circle cx="1172.4" cy="496.7" r="6.94"/>
<circle cx="1172.5" cy="497" r="6.94"/>
<circle cx="1172.5" cy="497.4" r="6.94"/>
<circle cx="1172.6" cy="497.7" r="6.94"/>
<circle cx="1172.6" cy="498.1" r="6.94"/>
<circle cx="1172.6" cy="498.5" r="6.94"/>
<circle cx="1172.7" cy="498.8" r="6.94"/>
<circle cx="1172.7" cy="499.2" r="6.94"/>
<circle cx="1172.8" cy="499.6" r="6.94"/>
<circle cx="1172.8" cy="499.9" r="6.94"/>
<circle cx="1172.8" cy="500.3" r="6.94"/>
<circle cx="1172.9" cy="500.6" r="6.94"/>
<circle cx="1172.9" cy="500.9" r="6.94"/>
<circle cx="1172.9" cy="501.2" r="6.94"/>
<circle cx="1173" cy="501.5" r="6.94"/>
<circle cx="1173" cy="501.8" r="6.94"/>
<circle cx="1173" cy="502.1" r="6.94"/>
<circle cx="1173" cy="502.4" r="6.94"/>
<circle cx="1173.1" cy="502.7" r="6.94"/>
<circle cx="1173.1" cy="503" r="6.94"/>
<circle cx="1173.1" cy="503.4" r="6.94"/>
<circle cx="1173.2" cy="503.7" r="6.94"/>
<circle cx="1173.2" cy="504" r="6.94"/>
<circle cx="1173.2" cy="504.3" r="6.94"/>
<circle cx="1173.2" cy="504.6" r="6.94"/>
<circle cx="1173.3" cy="504.9" r="6.94"/>
<circle cx="1173.3" cy="505.2" r="6.94"/>
<circle cx="1173.3" cy="505.6" r="6.94"/>
<circle cx="1173.4" cy="505.9" r="6.94"/>
<circle cx="1173.4" cy="506.3" r="6.94"/>
<circle cx="1173.4" cy="506.6" r="6.94"/>
<circle cx="1173.5" cy="506.9" r="6.94"/>
<circle cx="1173.5" cy="507.3" r="6.94"/>
<circle cx="1173.6" cy="507.6" r="6.94"/>
<circle cx="1173.8" cy="507.9" r="6.94"/>
<circle cx="1173.8" cy="508.2" r="6.94"/>
<circle cx="1173.8" cy="508.5" r="6.94"/>
<circle cx="1173.8" cy="508.9" r="6.94"/>
<circle cx="1173.8" cy="509.2" r="6.94"/>
<circle cx="1173.8" cy="509.5" r="6.94"/>
<circle cx="1173.9" cy="509.9" r="6.94"/>
<circle cx="1173.9" cy="510.2" r="6.94"/>
<circle cx="1173.9" cy="510.5" r="6.94"/>
<circle cx="1173.9" cy="510.8" r="6.94"/>
<circle cx="1173.9" cy="511.2" r="6.94"/>
<circle cx="1173.9" cy="511.5" r="6.94"/>
<circle cx="1173.9" cy="511.9" r="6.94"/>
<circle cx="1173.9" cy="512.2" r="6.94"/>
<circle cx="1173.9" cy="512.5" r="6.94"/>
<circle cx="1173.9" cy="512.9" r="6.94"/>
<circle cx="1173.9" cy="513.2" r="6.94"/>
<circle cx="1173.9" cy="513.5" r="6.94"/>
<circle cx="1173.9" cy="513.9" r="6.94"/>
<circle cx="1173.9" cy="514.2" r="6.94"/>
<circle cx="1173.9" cy="514.5" r="6.94"/>
<circle cx="1173.9" cy="514.8" r="6.94"/>
<circle cx="1173.9" cy="515.2" r="6.94"/>
<circle cx="1173.9" cy="515.5" r="6.94"/>
<circle cx="1173.9" cy="515.9" r="6.94"/>
<circle cx="1173.9" cy="516.2" r="6.94"/>
<circle cx="1173.9" cy="516.6" r="6.94"/>
<circle cx="1173.9" cy="517" r="6.94"/>
<circle cx="1173.9" cy="517.4" r="6.94"/>
<circle cx="1173.9" cy="517.7" r="6.94"/>
<circle cx="1173.9" cy="518" r="6.94"/>
<circle cx="1173.9" cy="518.4" r="6.94"/>
<circle cx="1173.9" cy="518.7" r="6.94"/>
<circle cx="1173.9" cy="519" r="6.94"/>
<circle cx="1173.9" cy="519.4" r="6.94"/>
<circle cx="1173.9" cy="519.7" r="6.94"/>
<circle cx="1173.9" cy="520.1" r="6.94"/>
<circle cx="1173.9" cy="520.4" r="6.94"/>
<circle cx="1174" cy="520.8" r="6.94"/>
<circle cx="1174" cy="521.2" r="6.94"/>
<circle cx="1174" cy="521.6" r="6.94"/>
<circle cx="1174" cy="521.9" r="6.94"/>
<circle cx="1174" cy="522.3" r="6.94"/>
<circle cx="1174" cy="522.8" r="6.94"/>
<circle cx="1174" cy="523.2" r="6.94"/>
<circle cx="1174" cy="523.6" r="6.94"/>
<circle cx="1174" cy="524" r="6.94"/>
<circle cx="1174" cy="524.5" r="6.94"/>
<circle cx="1174" cy="524.9" r="6.94"/>
<circle cx="1174" cy="525.2" r="6.94"/>
<circle cx="1174" cy="525.5" r="6.94"/>
<circle cx="1174" cy="525.8" r="6.94"/>
<circle cx="1174" cy="526.1" r="6.94"/>
<circle cx="1174" cy="526.4" r="6.94"/>
<circle cx="1174" cy="526.8" r="6.94"/>
<circle cx="1174" cy="527.1" r="6.94"/>
<circle cx="1174" cy="527.4" r="6.94"/>
<circle cx="1174" cy="527.7" r="6.94"/>
<circle cx="1174" cy="528.1" r="6.94"/>
<circle cx="1174" cy="528.4" r="6.94"/>
<circle cx="1174" cy="528.8" r="6.94"/>
<circle cx="1174" cy="529.1" r="6.94"/>
<circle cx="1174" cy="529.4" r="6.94"/>
<circle cx="1174" cy="529.8" r="6.94"/>
<circle cx="1174" cy="530.2" r="6.94"/>
<circle cx="1174" cy="530.5" r="6.94"/>
<circle cx="1174" cy="530.9" r="6.94"/>
<circle cx="1174" cy="531.2" r="6.94"/>
<circle cx="1174" cy="531.6" r="6.94"/>
<circle cx="1174" cy="531.9" r="6.94"/>
<circle cx="1175.2" cy="348.4" r="6.94"/>
<circle cx="1175.2" cy="354.9" r="6.94"/>
<circle cx="1175.2" cy="361.4" r="6.94"/>
<circle cx="1175.2" cy="367.9" r="6.94"/>
<circle cx="1175.2" cy="374.4" r="6.94"/>
<circle cx="1175.2" cy="380.9" r="6.94"/>
<circle cx="1175.2" cy="387.4" r="6.94"/>
<circle cx="1175.2" cy="393.9" r="6.94"/>
<circle cx="1175.2" cy="400.4" r="6.94"/>
<circle cx="1175.2" cy="406.9" r="6.94"/>
<circle cx="1175.2" cy="413.4" r="6.94"/>
<circle cx="1175.2" cy="419.9" r="6.94"/>
<circle cx="1175.2" cy="426.4" r="6.94"/>
<circle cx="1175.2" cy="432.9" r="6.94"/>
<circle cx="1175.2" cy="439.4" r="6.94"/>
<circle cx="1175.2" cy="445.9" r="6.94"/>
<circle cx="1175.2" cy="452.4" r="6.94"/>
<circle cx="1175.2" cy="458.9" r="6.94"/>
<circle cx="1175.2" cy="465.4" r="6.94"/>
<circle cx="1175.2" cy="471.9" r="6.94"/>
<circle cx="1175.2" cy="478.4" r="6.94"/>
<circle cx="1175.2" cy="484.9" r="6.94"/>
<circle cx="1175.2" cy="491.4" r="6.94"/>
<circle cx="1175.2" cy="497.9" r="6.94"/>
<circle cx="1175.2" cy="504.4" r="6.94"/>
<circle cx="1175.2" cy="510.9" r="6.94"/>
<circle cx="1175.2" cy="517.4" r="6.94"/>
<circle cx="1175.2" cy="523.9" r="6.94"/>
<circle cx="1175" cy="531" r="6.94"/>
<circle cx="1175" cy="533.8" r="6.94"/>
<circle cx="1175" cy="536.6" r="6.94"/>
<circle cx="1175" cy="539.4" r="6.94"/>
<circle cx="1175" cy="542.2" r="6.94"/>
<circle cx="1175" cy="545" r="6.94"/>
<circle cx="1175" cy="547.8" r="6.94"/>
<circle cx="1175" cy="550.6" r="6.94"/>
<circle cx="1175" cy="553.4" r="6.94"/>
<circle cx="1175" cy="556.2" r="6.94"/>
<circle cx="1175" cy="559" r="6.94"/>
<circle cx="1175" cy="561.8" r="6.94"/>
<circle cx="1175" cy="564.6" r="6.94"/>
<circle cx="1175" cy="567.4" r="6.94"/>
<circle cx="1175" cy="570.2" r="6.94"/>
<circle cx="1175" cy="573" r="6.94"/>
<circle cx="1175" cy="575.8" r="6.94"/>
<circle cx="1175" cy="578.6" r="6.94"/>
<circle cx="1175" cy="581.4" r="6.94"/>
<circle cx="1175" cy="584.2" r="6.94"/>
<circle cx="1175" cy="587" r="6.94"/>
<circle cx="1175" cy="589.8" r="6.94"/>
<circle cx="1175" cy="592.6" r="6.94"/>
<circle cx="1175" cy="595.4" r="6.94"/>
<circle cx="1175" cy="598.2" r="6.94"/>
<circle cx="1175" cy="601" r="6.94"/>
<circle cx="1175" cy="603.8" r="6.94"/>
<circle cx="1246.8" cy="604.2" r="6.94"/>
<circle cx="1247.1" cy="602.8" r="6.94"/>
<circle cx="1247.4" cy="601.3" r="6.94"/>
<circle cx="1247.7" cy="599.8" r="6.94"/>
<circle cx="1248" cy="598.4" r="6.94"/>
<circle cx="1248.3" cy="596.9" r="6.94"/>
<circle cx="1248.6" cy="595.4" r="6.94"/>
<circle cx="1248.9" cy="594" r="6.94"/>
<circle cx="1249.2" cy="592.5" r="6.94"/>
<circle cx="1249.5" cy="591" r="6.94"/>
<circle cx="1249.8" cy="589.6" r="6.94"/>
<circle cx="1250.1" cy="588.1" r="6.94"/>
<circle cx="1250.4" cy="586.7" r="6.94"/>
<circle cx="1250.7" cy="585.3" r="6.94"/>
<circle cx="1251" cy="583.8" r="6.94"/>
<circle cx="1251.3" cy="582.4" r="6.94"/>
<circle cx="1251.6" cy="581" r="6.94"/>
<circle cx="1251.9" cy="579.5" r="6.94"/>
<circle cx="1252.2" cy="578.1" r="6.94"/>
<circle cx="1252.5" cy="576.7" r="6.94"/>
<circle cx="1252.9" cy="575.3" r="6.94"/>
<circle cx="1253.2" cy="573.9" r="6.94"/>
<circle cx="1253.5" cy="572.5" r="6.94"/>
<circle cx="1253.8" cy="571.1" r="6.94"/>
<circle cx="1254.1" cy="569.7" r="6.94"/>
<circle cx="1254.4" cy="568.4" r="6.94"/>
<circle cx="1254.7" cy="567" r="6.94"/>
<circle cx="1255" cy="565.6" r="6.94"/>
<circle cx="1255.3" cy="564.2" r="6.94"/>
<circle cx="1255.6" cy="562.8" r="6.94"/>
<circle cx="1255.9" cy="561.4" r="6.94"/>
<circle cx="1256.2" cy="560" r="6.94"/>
<circle cx="1256.6" cy="558.6" r="6.94"/>
<circle cx="1256.9" cy="557.3" r="6.94"/>
<circle cx="1257.2" cy="555.9" r="6.94"/>
<circle cx="1257.5" cy="554.5" r="6.94"/>
<circle cx="1257.8" cy="553.2" r="6.94"/>
<circle cx="1258.1" cy="551.8" r="6.94"/>
<circle cx="1258.4" cy="550.5" r="6.94"/>
<circle cx="1258.7" cy="549.2" r="6.94"/>
<circle cx="1259.1" cy="547.8" r="6.94"/>
<circle cx="1259.4" cy="546.5" r="6.94"/>
<circle cx="1259.7" cy="545.2" r="6.94"/>
<circle cx="1260" cy="543.9" r="6.94"/>
<circle cx="1260.3" cy="542.6" r="6.94"/>
<circle cx="1260.6" cy="541.3" r="6.94"/>
<circle cx="1260.9" cy="540" r="6.94"/>
<circle cx="1261.2" cy="538.7" r="6.94"/>
<circle cx="1261.5" cy="537.4" r="6.94"/>
<circle cx="1261.9" cy="536.2" r="6.94"/>
<circle cx="1262.2" cy="534.9" r="6.94"/>
<circle cx="1262.5" cy="533.7" r="6.94"/>
<circle cx="1262.8" cy="532.4" r="6.94"/>
<circle cx="1263.1" cy="531.2" r="6.94"/>
<circle cx="1263.4" cy="529.9" r="6.94"/>
<circle cx="1263.7" cy="528.7" r="6.94"/>
<circle cx="1264" cy="527.5" r="6.94"/>
<circle cx="1264.3" cy="526.3" r="6.94"/>
<circle cx="1264.7" cy="525" r="6.94"/>
<circle cx="1265" cy="523.8" r="6.94"/>
<circle cx="1265.3" cy="522.6" r="6.94"/>
<circle cx="1265.6" cy="521.5" r="6.94"/>
<circle cx="1265.9" cy="520.3" r="6.94"/>
<circle cx="1266.2" cy="519.1" r="6.94"/>
<circle cx="1266.5" cy="517.9" r="6.94"/>
<circle cx="1266.8" cy="516.8" r="6.94"/>
<circle cx="1267.1" cy="515.6" r="6.94"/>
<circle cx="1267.5" cy="514.5" r="6.94"/>
<circle cx="1267.8" cy="513.3" r="6.94"/>
<circle cx="1268.1" cy="512.2" r="6.94"/>
<circle cx="1268.4" cy="511.1" r="6.94"/>
<circle cx="1268.7" cy="510" r="6.94"/>
<circle cx="1269" cy="508.8" r="6.94"/>
<circle cx="1269.3" cy="507.7" r="6.94"/>
<circle cx="1269.7" cy="506.6" r="6.94"/>
<circle cx="1270" cy="505.5" r="6.94"/>
<circle cx="1270.3" cy="504.4" r="6.94"/>
<circle cx="1270.6" cy="503.3" r="6.94"/>
<circle cx="1270.9" cy="502.3" r="6.94"/>
<circle cx="1271.2" cy="501.2" r="6.94"/>
<circle cx="1271.5" cy="500.1" r="6.94"/>
<circle cx="1271.9" cy="499.1" r="6.94"/>
<circle cx="1272.2" cy="498" r="6.94"/>
<circle cx="1272.5" cy="497" r="6.94"/>
<circle cx="1272.8" cy="496" r="6.94"/>
<circle cx="1273.1" cy="494.9" r="6.94"/>
<circle cx="1273.4" cy="493.9" r="6.94"/>
<circle cx="1273.8" cy="492.9" r="6.94"/>
<circle cx="1274.1" cy="491.9" r="6.94"/>
<circle cx="1274.4" cy="490.9" r="6.94"/>
<circle cx="1274.7" cy="490" r="6.94"/>
<circle cx="1275" cy="489" r="6.94"/>
<circle cx="1275.3" cy="488" r="6.94"/>
<circle cx="1275.7" cy="487.1" r="6.94"/>
<circle cx="1276" cy="486.2" r="6.94"/>
<circle cx="1276.3" cy="485.3" r="6.94"/>
<circle cx="1276.6" cy="484.4" r="6.94"/>
<circle cx="1276.9" cy="483.5" r="6.94"/>
<circle cx="1277.2" cy="482.6" r="6.94"/>
<circle cx="1277.5" cy="481.7" r="6.94"/>
<circle cx="1277.8" cy="480.9" r="6.94"/>
<circle cx="1278.1" cy="480" r="6.94"/>
<circle cx="1278.4" cy="479.2" r="6.94"/>
<circle cx="1278.7" cy="478.3" r="6.94"/>
<circle cx="1279" cy="477.5" r="6.94"/>
<circle cx="1279.3" cy="476.7" r="6.94"/>
<circle cx="1279.6" cy="475.9" r="6.94"/>
<circle cx="1279.9" cy="475.1" r="6.94"/>
<circle cx="1280.2" cy="474.3" r="6.94"/>
<circle cx="1280.5" cy="473.5" r="6.94"/>
<circle cx="1280.8" cy="472.7" r="6.94"/>
<circle cx="1281.2" cy="471.9" r="6.94"/>
<circle cx="1281.5" cy="471.2" r="6.94"/>
<circle cx="1281.8" cy="470.4" r="6.94"/>
<circle cx="1282.1" cy="469.7" r="6.94"/>
<circle cx="1282.4" cy="468.9" r="6.94"/>
<circle cx="1282.7" cy="468.2" r="6.94"/>
<circle cx="1283" cy="467.5" r="6.94"/>
<circle cx="1283.3" cy="466.8" r="6.94"/>
<circle cx="1283.6" cy="466.2" r="6.94"/>
<circle cx="1283.9" cy="465.5" r="6.94"/>
<circle cx="1284.2" cy="464.8" r="6.94"/>
<circle cx="1284.5" cy="464.2" r="6.94"/>
<circle cx="1284.8" cy="463.5" r="6.94"/>
<circle cx="1285.1" cy="462.9" r="6.94"/>
<circle cx="1285.4" cy="462.2" r="6.94"/>
<circle cx="1285.7" cy="461.6" r="6.94"/>
<circle cx="1286" cy="461" r="6.94"/>
<circle cx="1286.3" cy="460.4" r="6.94"/>
<circle cx="1286.6" cy="459.8" r="6.94"/>
<circle cx="1286.9" cy="459.2" r="6.94"/>
<circle cx="1287.2" cy="458.6" r="6.94"/>
<circle cx="1287.5" cy="458.1" r="6.94"/>
<circle cx="1287.8" cy="457.5" r="6.94"/>
<circle cx="1288.1" cy="457" r="6.94"/>
<circle cx="1288.4" cy="456.4" r="6.94"/>
<circle cx="1288.7" cy="455.9" r="6.94"/>
<circle cx="1289" cy="455.4" r="6.94"/>
<circle cx="1289.3" cy="454.9" r="6.94"/>
<circle cx="1289.6" cy="454.4" r="6.94"/>
<circle cx="1289.9" cy="453.8" r="6.94"/>
<circle cx="1290.3" cy="453.3" r="6.94"/>
<circle cx="1290.6" cy="452.8" r="6.94"/>
<circle cx="1290.9" cy="452.3" r="6.94"/>
<circle cx="1291.3" cy="451.8" r="6.94"/>
<circle cx="1291.6" cy="451.4" r="6.94"/>
<circle cx="1291.9" cy="450.9" r="6.94"/>
<circle cx="1292.3" cy="450.5" r="6.94"/>
<circle cx="1292.6" cy="450.1" r="6.94"/>
<circle cx="1292.9" cy="449.6" r="6.94"/>
<circle cx="1293.2" cy="449.2" r="6.94"/>
<circle cx="1293.6" cy="448.8" r="6.94"/>
<circle cx="1293.9" cy="448.4" r="6.94"/>
<circle cx="1294.3" cy="448" r="6.94"/>
<circle cx="1294.6" cy="447.7" r="6.94"/>
<circle cx="1294.9" cy="447.3" r="6.94"/>
<circle cx="1295.3" cy="447" r="6.94"/>
<circle cx="1295.6" cy="446.6" r="6.94"/>
<circle cx="1295.9" cy="446.3" r="6.94"/>
<circle cx="1296.2" cy="446" r="6.94"/>
<circle cx="1296.6" cy="445.7" r="6.94"/>
<circle cx="1296.9" cy="445.4" r="6.94"/>
<circle cx="1297.2" cy="445.1" r="6.94"/>
<circle cx="1297.5" cy="444.8" r="6.94"/>
<circle cx="1297.8" cy="444.5" r="6.94"/>
<circle cx="1298.1" cy="444.3" r="6.94"/>
<circle cx="1298.5" cy="444" r="6.94"/>
<circle cx="1298.8" cy="443.8" r="6.94"/>
<circle cx="1299.1" cy="443.5" r="6.94"/>
<circle cx="1299.4" cy="443.3" r="6.94"/>
<circle cx="1299.7" cy="443.1" r="6.94"/>
<circle cx="1300.1" cy="442.9" r="6.94"/>
<circle cx="1300.4" cy="442.7" r="6.94"/>
<circle cx="1300.7" cy="442.5" r="6.94"/>
<circle cx="1301" cy="442.3" r="6.94"/>
<circle cx="1301.3" cy="442.1" r="6.94"/>
<circle cx="1301.7" cy="442" r="6.94"/>
<circle cx="1302" cy="441.8" r="6.94"/>
<circle cx="1302.3" cy="441.7" r="6.94"/>
<circle cx="1302.7" cy="441.5" r="6.94"/>
<circle cx="1303.1" cy="441.4" r="6.94"/>
<circle cx="1303.4" cy="441.3" r="6.94"/>
<circle cx="1303.8" cy="441.1" r="6.94"/>
<circle cx="1304.1" cy="441.1" r="6.94"/>
<circle cx="1304.4" cy="441" r="6.94"/>
<circle cx="1304.8" cy="440.9" r="6.94"/>
<circle cx="1305.1" cy="440.9" r="6.94"/>
<circle cx="1305.5" cy="440.8" r="6.94"/>
<circle cx="1305.8" cy="440.8" r="6.94"/>
<circle cx="1306.2" cy="440.8" r="6.94"/>
<circle cx="1306.5" cy="440.7" r="6.94"/>
<circle cx="1306.7" cy="440.7" r="6.94"/>
<circle cx="1307.1" cy="440.7" r="6.94"/>
<circle cx="1307.4" cy="440.8" r="6.94"/>
<circle cx="1307.8" cy="440.8" r="6.94"/>
<circle cx="1308.1" cy="440.8" r="6.94"/>
<circle cx="1308.4" cy="440.9" r="6.94"/>
<circle cx="1308.8" cy="440.9" r="6.94"/>
<circle cx="1309.1" cy="441" r="6.94"/>
<circle cx="1309.4" cy="441.1" r="6.94"/>
<circle cx="1309.8" cy="441.1" r="6.94"/>
<circle cx="1310.1" cy="441.2" r="6.94"/>
<circle cx="1310.4" cy="441.3" r="6.94"/>
<circle cx="1310.7" cy="441.4" r="6.94"/>
<circle cx="1311" cy="441.5" r="6.94"/>
<circle cx="1311.3" cy="441.6" r="6.94"/>
<circle cx="1311.5" cy="441.7" r="6.94"/>
<circle cx="1311.8" cy="441.8" r="6.94"/>
<circle cx="1312.1" cy="441.9" r="6.94"/>
<circle cx="1312.4" cy="442.1" r="6.94"/>
<circle cx="1312.7" cy="442.2" r="6.94"/>
<circle cx="1312.9" cy="442.3" r="6.94"/>
<circle cx="1313.2" cy="442.5" r="6.94"/>
<circle cx="1313.5" cy="442.7" r="6.94"/>
<circle cx="1313.7" cy="442.8" r="6.94"/>
<circle cx="1314" cy="443" r="6.94"/>
<circle cx="1314.3" cy="443.2" r="6.94"/>
<circle cx="1314.5" cy="443.4" r="6.94"/>
<circle cx="1314.8" cy="443.6" r="6.94"/>
<circle cx="1315.1" cy="443.9" r="6.94"/>
<circle cx="1315.3" cy="444.1" r="6.94"/>
<circle cx="1315.5" cy="444.3" r="6.94"/>
<circle cx="1315.7" cy="444.6" r="6.94"/>
<circle cx="1315.9" cy="444.8" r="6.94"/>
<circle cx="1316.2" cy="445.1" r="6.94"/>
<circle cx="1316.4" cy="445.4" r="6.94"/>
<circle cx="1316.6" cy="445.6" r="6.94"/>
<circle cx="1316.9" cy="445.9" r="6.94"/>
<circle cx="1317.1" cy="446.3" r="6.94"/>
<circle cx="1317.3" cy="446.6" r="6.94"/>
<circle cx="1317.5" cy="446.8" r="6.94"/>
<circle cx="1317.6" cy="447.1" r="6.94"/>
<circle cx="1317.8" cy="447.3" r="6.94"/>
<circle cx="1318" cy="447.6" r="6.94"/>
<circle cx="1318.1" cy="447.9" r="6.94"/>
<circle cx="1318.3" cy="448.2" r="6.94"/>
<circle cx="1318.5" cy="448.4" r="6.94"/>
<circle cx="1318.6" cy="448.7" r="6.94"/>
<circle cx="1318.8" cy="449" r="6.94"/>
<circle cx="1318.9" cy="449.3" r="6.94"/>
<circle cx="1319.1" cy="449.6" r="6.94"/>
<circle cx="1319.3" cy="449.9" r="6.94"/>
<circle cx="1319.4" cy="450.2" r="6.94"/>
<circle cx="1319.6" cy="450.6" r="6.94"/>
<circle cx="1319.7" cy="450.9" r="6.94"/>
<circle cx="1319.8" cy="451.2" r="6.94"/>
<circle cx="1320" cy="451.5" r="6.94"/>
<circle cx="1320.1" cy="451.7" r="6.94"/>
<circle cx="1320.2" cy="452" r="6.94"/>
<circle cx="1320.3" cy="452.3" r="6.94"/>
<circle cx="1320.5" cy="452.6" r="6.94"/>
<circle cx="1320.6" cy="452.9" r="6.94"/>
<circle cx="1320.7" cy="453.2" r="6.94"/>
<circle cx="1320.8" cy="453.5" r="6.94"/>
<circle cx="1320.9" cy="453.8" r="6.94"/>
<circle cx="1321" cy="454.1" r="6.94"/>
<circle cx="1321.1" cy="454.5" r="6.94"/>
<circle cx="1321.2" cy="454.8" r="6.94"/>
<circle cx="1321.4" cy="455.1" r="6.94"/>
<circle cx="1321.5" cy="455.4" r="6.94"/>
<circle cx="1321.6" cy="455.7" r="6.94"/>
<circle cx="1321.7" cy="456.1" r="6.94"/>
<circle cx="1321.8" cy="456.4" r="6.94"/>
<circle cx="1321.9" cy="456.7" r="6.94"/>
<circle cx="1321.9" cy="457" r="6.94"/>
<circle cx="1322" cy="457.3" r="6.94"/>
<circle cx="1322.1" cy="457.6" r="6.94"/>
<circle cx="1322.2" cy="457.9" r="6.94"/>
<circle cx="1322.3" cy="458.2" r="6.94"/>
<circle cx="1322.4" cy="458.5" r="6.94"/>
<circle cx="1322.4" cy="458.8" r="6.94"/>
<circle cx="1322.5" cy="459.1" r="6.94"/>
<circle cx="1322.6" cy="459.4" r="6.94"/>
<circle cx="1322.7" cy="459.7" r="6.94"/>
<circle cx="1322.7" cy="460.1" r="6.94"/>
<circle cx="1322.8" cy="460.4" r="6.94"/>
<circle cx="1322.9" cy="460.7" r="6.94"/>
<circle cx="1323" cy="461" r="6.94"/>
<circle cx="1323" cy="461.3" r="6.94"/>
<circle cx="1323.1" cy="461.7" r="6.94"/>
<circle cx="1323.2" cy="462" r="6.94"/>
<circle cx="1323.3" cy="462.3" r="6.94"/>
<circle cx="1323.3" cy="462.6" r="6.94"/>
<circle cx="1323.4" cy="463" r="6.94"/>
<circle cx="1323.5" cy="463.3" r="6.94"/>
<circle cx="1323.5" cy="463.6" r="6.94"/>
<circle cx="1323.6" cy="464" r="6.94"/>
<circle cx="1323.7" cy="464.3" r="6.94"/>
<circle cx="1323.7" cy="464.6" r="6.94"/>
<circle cx="1323.8" cy="465" r="6.94"/>
<circle cx="1323.9" cy="465.3" r="6.94"/>
<circle cx="1323.9" cy="465.6" r="6.94"/>
<circle cx="1324" cy="466" r="6.94"/>
<circle cx="1324" cy="466.3" r="6.94"/>
<circle cx="1324.1" cy="466.6" r="6.94"/>
<circle cx="1324.2" cy="467" r="6.94"/>
<circle cx="1324.2" cy="467.3" r="6.94"/>
<circle cx="1324.3" cy="467.7" r="6.94"/>
<circle cx="1324.3" cy="468" r="6.94"/>
<circle cx="1324.4" cy="468.3" r="6.94"/>
<circle cx="1324.4" cy="468.7" r="6.94"/>
<circle cx="1324.5" cy="469" r="6.94"/>
<circle cx="1324.5" cy="469.3" r="6.94"/>
<circle cx="1324.6" cy="469.7" r="6.94"/>
<circle cx="1324.6" cy="470" r="6.94"/>
<circle cx="1324.6" cy="470.3" r="6.94"/>
<circle cx="1324.7" cy="470.6" r="6.94"/>
<circle cx="1324.7" cy="471" r="6.94"/>
<circle cx="1324.8" cy="471.3" r="6.94"/>
<circle cx="1324.8" cy="471.6" r="6.94"/>
<circle cx="1324.8" cy="471.9" r="6.94"/>
<circle cx="1324.9" cy="472.2" r="6.94"/>
<circle cx="1324.9" cy="472.6" r="6.94"/>
<circle cx="1324.9" cy="472.9" r="6.94"/>
<circle cx="1325" cy="473.2" r="6.94"/>
<circle cx="1325" cy="473.5" r="6.94"/>
<circle cx="1325" cy="473.9" r="6.94"/>
<circle cx="1325" cy="474.2" r="6.94"/>
<circle cx="1325.1" cy="474.5" r="6.94"/>
<circle cx="1325.1" cy="474.8" r="6.94"/>
<circle cx="1325.1" cy="475.1" r="6.94"/>
<circle cx="1325.1" cy="475.5" r="6.94"/>
<circle cx="1325.2" cy="475.8" r="6.94"/>
<circle cx="1325.2" cy="476.1" r="6.94"/>
<circle cx="1325.2" cy="476.5" r="6.94"/>
<circle cx="1325.2" cy="476.8" r="6.94"/>
<circle cx="1325.3" cy="477.1" r="6.94"/>
<circle cx="1325.3" cy="477.5" r="6.94"/>
<circle cx="1325.3" cy="477.8" r="6.94"/>
<circle cx="1325.3" cy="478.1" r="6.94"/>
<circle cx="1325.3" cy="478.5" r="6.94"/>
<circle cx="1325.3" cy="478.8" r="6.94"/>
<circle cx="1325.4" cy="479.2" r="6.94"/>
<circle cx="1325.4" cy="479.5" r="6.94"/>
<circle cx="1325.4" cy="479.8" r="6.94"/>
<circle cx="1325.4" cy="480.2" r="6.94"/>
<circle cx="1325.4" cy="480.5" r="6.94"/>
<circle cx="1325.4" cy="480.9" r="6.94"/>
<circle cx="1325.4" cy="481.3" r="6.94"/>
<circle cx="1325.4" cy="481.6" r="6.94"/>
<circle cx="1325.5" cy="482" r="6.94"/>
<circle cx="1325.5" cy="482.3" r="6.94"/>
<circle cx="1325.5" cy="482.7" r="6.94"/>
<circle cx="1325.5" cy="483.1" r="6.94"/>
<circle cx="1325.5" cy="483.5" r="6.94"/>
<circle cx="1325.5" cy="483.8" r="6.94"/>
<circle cx="1325.5" cy="484.1" r="6.94"/>
<circle cx="1325.5" cy="484.4" r="6.94"/>
<circle cx="1325.5" cy="484.7" r="6.94"/>
<circle cx="1325.6" cy="485" r="6.94"/>
<circle cx="1325.6" cy="485.3" r="6.94"/>
<circle cx="1325.6" cy="485.6" r="6.94"/>
<circle cx="1325.6" cy="485.9" r="6.94"/>
<circle cx="1325.6" cy="486.2" r="6.94"/>
<circle cx="1325.6" cy="486.6" r="6.94"/>
<circle cx="1325.6" cy="487" r="6.94"/>
<circle cx="1325.7" cy="486.9" r="6.94"/>
<circle cx="1325.7" cy="486.5" r="6.94"/>
<circle cx="1325.7" cy="486.2" r="6.94"/>
<circle cx="1325.7" cy="485.9" r="6.94"/>
<circle cx="1325.7" cy="485.5" r="6.94"/>
<circle cx="1325.7" cy="485.2" r="6.94"/>
<circle cx="1325.7" cy="484.9" r="6.94"/>
<circle cx="1325.7" cy="484.5" r="6.94"/>
<circle cx="1325.7" cy="484.2" r="6.94"/>
<circle cx="1325.7" cy="483.9" r="6.94"/>
<circle cx="1325.7" cy="483.5" r="6.94"/>
<circle cx="1325.8" cy="483.2" r="6.94"/>
<circle cx="1325.8" cy="482.8" r="6.94"/>
<circle cx="1325.8" cy="482.5" r="6.94"/>
<circle cx="1325.8" cy="482.2" r="6.94"/>
<circle cx="1325.8" cy="481.9" r="6.94"/>
<circle cx="1325.8" cy="481.5" r="6.94"/>
<circle cx="1325.8" cy="481.2" r="6.94"/>
<circle cx="1325.8" cy="480.8" r="6.94"/>
<circle cx="1325.8" cy="480.5" r="6.94"/>
<circle cx="1325.8" cy="480.2" r="6.94"/>
<circle cx="1325.8" cy="480.2" r="6.94"/>
<circle cx="1325.8" cy="480.5" r="6.94"/>
<circle cx="1325.8" cy="480.9" r="6.94"/>
<circle cx="1325.8" cy="481.2" r="6.94"/>
<circle cx="1325.8" cy="481.5" r="6.94"/>
<circle cx="1325.8" cy="481.9" r="6.94"/>
<circle cx="1325.8" cy="482.2" r="6.94"/>
<circle cx="1325.8" cy="482.6" r="6.94"/>
<circle cx="1325.8" cy="482.9" r="6.94"/>
<circle cx="1325.8" cy="483.2" r="6.94"/>
<circle cx="1325.8" cy="483.6" r="6.94"/>
<circle cx="1325.8" cy="483.9" r="6.94"/>
<circle cx="1325.8" cy="484.3" r="6.94"/>
<circle cx="1325.8" cy="484.6" r="6.94"/>
<circle cx="1325.8" cy="484.9" r="6.94"/>
<circle cx="1325.8" cy="485.3" r="6.94"/>
<circle cx="1325.8" cy="485.6" r="6.94"/>
<circle cx="1325.8" cy="486" r="6.94"/>
<circle cx="1325.8" cy="486.3" r="6.94"/>
<circle cx="1325.8" cy="486.7" r="6.94"/>
<circle cx="1325.8" cy="487" r="6.94"/>
<circle cx="1325.8" cy="487.4" r="6.94"/>
<circle cx="1325.8" cy="487.7" r="6.94"/>
<circle cx="1325.8" cy="488" r="6.94"/>
<circle cx="1325.8" cy="488.3" r="6.94"/>
<circle cx="1325.8" cy="488.7" r="6.94"/>
<circle cx="1325.8" cy="489" r="6.94"/>
<circle cx="1325.8" cy="489.4" r="6.94"/>
<circle cx="1325.8" cy="489.7" r="6.94"/>
<circle cx="1325.8" cy="490.1" r="6.94"/>
<circle cx="1325.8" cy="490.5" r="6.94"/>
<circle cx="1325.8" cy="490.9" r="6.94"/>
<circle cx="1325.8" cy="491.3" r="6.94"/>
<circle cx="1325.8" cy="491.7" r="6.94"/>
<circle cx="1325.8" cy="492.1" r="6.94"/>
<circle cx="1325.8" cy="492.6" r="6.94"/>
<circle cx="1325.8" cy="493" r="6.94"/>
<circle cx="1325.8" cy="493.4" r="6.94"/>
<circle cx="1325.8" cy="493.8" r="6.94"/>
<circle cx="1325.8" cy="494.1" r="6.94"/>
<circle cx="1325.8" cy="494.4" r="6.94"/>
<circle cx="1325.8" cy="494.7" r="6.94"/>
<circle cx="1325.8" cy="495" r="6.94"/>
<circle cx="1325.8" cy="495.3" r="6.94"/>
<circle cx="1325.8" cy="495.7" r="6.94"/>
<circle cx="1325.8" cy="496" r="6.94"/>
<circle cx="1325.8" cy="496.3" r="6.94"/>
<circle cx="1325.8" cy="496.7" r="6.94"/>
<circle cx="1325.8" cy="497" r="6.94"/>
<circle cx="1325.8" cy="497.4" r="6.94"/>
<circle cx="1325.8" cy="497.7" r="6.94"/>
<circle cx="1325.8" cy="498.1" r="6.94"/>
<circle cx="1325.8" cy="498.4" r="6.94"/>
<circle cx="1325.8" cy="498.8" r="6.94"/>
<circle cx="1325.8" cy="499.2" r="6.94"/>
<circle cx="1325.8" cy="499.5" r="6.94"/>
<circle cx="1325.8" cy="499.9" r="6.94"/>
<circle cx="1325.8" cy="500.3" r="6.94"/>
<circle cx="1325.8" cy="500.7" r="6.94"/>
<circle cx="1325.8" cy="501.1" r="6.94"/>
<circle cx="1325.8" cy="501.5" r="6.94"/>
<circle cx="1325.8" cy="501.9" r="6.94"/>
<circle cx="1325.8" cy="502.3" r="6.94"/>
<circle cx="1325.8" cy="502.7" r="6.94"/>
<circle cx="1325.8" cy="503.1" r="6.94"/>
<circle cx="1325.8" cy="503.6" r="6.94"/>
<circle cx="1325.8" cy="504" r="6.94"/>
<circle cx="1325.8" cy="504.4" r="6.94"/>
<circle cx="1325.8" cy="504.8" r="6.94"/>
<circle cx="1325.8" cy="505.3" r="6.94"/>
<circle cx="1325.8" cy="505.7" r="6.94"/>
<circle cx="1325.8" cy="506.2" r="6.94"/>
<circle cx="1325.8" cy="506.6" r="6.94"/>
<circle cx="1325.8" cy="507.1" r="6.94"/>
<circle cx="1325.8" cy="507.6" r="6.94"/>
<circle cx="1325.8" cy="508" r="6.94"/>
<circle cx="1325.8" cy="508.5" r="6.94"/>
<circle cx="1325.8" cy="508.8" r="6.94"/>
<circle cx="1325.8" cy="509.2" r="6.94"/>
<circle cx="1325.8" cy="509.6" r="6.94"/>
<circle cx="1325.8" cy="510" r="6.94"/>
<circle cx="1326.3" cy="348.4" r="6.94"/>
<circle cx="1326.3" cy="352.6" r="6.94"/>
<circle cx="1326.3" cy="356.8" r="6.94"/>
<circle cx="1326.3" cy="361" r="6.94"/>
<circle cx="1326.3" cy="365.2" r="6.94"/>
<circle cx="1326.3" cy="369.4" r="6.94"/>
<circle cx="1326.3" cy="373.6" r="6.94"/>
<circle cx="1326.3" cy="377.8" r="6.94"/>
<circle cx="1326.3" cy="382" r="6.94"/>
<circle cx="1326.3" cy="386.2" r="6.94"/>
<circle cx="1326.3" cy="390.4" r="6.94"/>
<circle cx="1326.3" cy="394.6" r="6.94"/>
<circle cx="1326.3" cy="398.8" r="6.94"/>
<circle cx="1326.3" cy="403" r="6.94"/>
<circle cx="1326.3" cy="407.2" r="6.94"/>
<circle cx="1326.3" cy="411.4" r="6.94"/>
<circle cx="1326.3" cy="415.6" r="6.94"/>
<circle cx="1326.3" cy="419.8" r="6.94"/>
<circle cx="1326.3" cy="424" r="6.94"/>
<circle cx="1326.3" cy="428.2" r="6.94"/>
<circle cx="1326.3" cy="432.4" r="6.94"/>
<circle cx="1326.3" cy="436.6" r="6.94"/>
<circle cx="1326.3" cy="440.8" r="6.94"/>
<circle cx="1326.3" cy="445" r="6.94"/>
<circle cx="1326.3" cy="449.2" r="6.94"/>
<circle cx="1326.3" cy="453.4" r="6.94"/>
<circle cx="1326.3" cy="457.6" r="6.94"/>
<circle cx="1326.3" cy="461.8" r="6.94"/>
<circle cx="1326.3" cy="466" r="6.94"/>
<circle cx="1326.3" cy="470.2" r="6.94"/>
<circle cx="1326.3" cy="474.4" r="6.94"/>
<circle cx="1326.3" cy="478.6" r="6.94"/>
<circle cx="1326.3" cy="482.8" r="6.94"/>
<circle cx="1326.3" cy="487" r="6.94"/>
<circle cx="1326.3" cy="491.2" r="6.94"/>
<circle cx="1326.3" cy="495.4" r="6.94"/>
<circle cx="1326.3" cy="499.6" r="6.94"/>
<circle cx="1326.3" cy="503.8" r="6.94"/>
<circle cx="1326.3" cy="508" r="6.94"/>
<circle cx="1326.2" cy="511" r="6.94"/>
<circle cx="1326.2" cy="514.1" r="6.94"/>
<circle cx="1326.2" cy="517.2" r="6.94"/>
<circle cx="1326.2" cy="520.3" r="6.94"/>
<circle cx="1326.2" cy="523.4" r="6.94"/>
<circle cx="1326.2" cy="526.5" r="6.94"/>
<circle cx="1326.2" cy="529.6" r="6.94"/>
<circle cx="1326.2" cy="532.7" r="6.94"/>
<circle cx="1326.2" cy="535.8" r="6.94"/>
<circle cx="1326.2" cy="538.9" r="6.94"/>
<circle cx="1326.2" cy="542" r="6.94"/>
<circle cx="1326.2" cy="545.1" r="6.94"/>
<circle cx="1326.2" cy="548.2" r="6.94"/>
<circle cx="1326.2" cy="551.3" r="6.94"/>
<circle cx="1326.2" cy="554.4" r="6.94"/>
<circle cx="1326.2" cy="557.5" r="6.94"/>
<circle cx="1326.2" cy="560.6" r="6.94"/>
<circle cx="1326.2" cy="563.7" r="6.94"/>
<circle cx="1326.2" cy="566.8" r="6.94"/>
<circle cx="1326.2" cy="569.9" r="6.94"/>
<circle cx="1326.2" cy="573" r="6.94"/>
<circle cx="1326.2" cy="576.1" r="6.94"/>
<circle cx="1326.2" cy="579.2" r="6.94"/>
<circle cx="1326.2" cy="582.3" r="6.94"/>
<circle cx="1326.2" cy="585.4" r="6.94"/>
<circle cx="1326.2" cy="588.5" r="6.94"/>
<circle cx="1326.2" cy="591.6" r="6.94"/>
<circle cx="1326.2" cy="594.7" r="6.94"/>
<circle cx="1326.2" cy="597.8" r="6.94"/>
<circle cx="1326.2" cy="600.9" r="6.94"/>
<circle cx="1326.2" cy="604" r="6.94"/>
<circle cx="1327.8" cy="551" r="6.94"/>
<circle cx="1327.8" cy="562" r="6.94"/>
<circle cx="1327.8" cy="577" r="6.94"/>
<circle cx="1327.8" cy="590" r="6.94"/>
<circle cx="1327.8" cy="599" r="6.94"/>
<circle cx="1391.4" cy="604.3" r="6.94"/>
<circle cx="1391.7" cy="602.9" r="6.94"/>
<circle cx="1392" cy="601.6" r="6.94"/>
<circle cx="1392.4" cy="600.3" r="6.94"/>
<circle cx="1392.7" cy="599" r="6.94"/>
<circle cx="1393" cy="597.7" r="6.94"/>
<circle cx="1393.3" cy="596.5" r="6.94"/>
<circle cx="1393.6" cy="595.2" r="6.94"/>
<circle cx="1393.9" cy="594" r="6.94"/>
<circle cx="1394.2" cy="592.8" r="6.94"/>
<circle cx="1394.5" cy="591.6" r="6.94"/>
<circle cx="1394.8" cy="590.4" r="6.94"/>
<circle cx="1395.2" cy="589.2" r="6.94"/>
<circle cx="1395.5" cy="588.1" r="6.94"/>
<circle cx="1395.8" cy="586.9" r="6.94"/>
<circle cx="1396.1" cy="585.8" r="6.94"/>
<circle cx="1396.4" cy="584.6" r="6.94"/>
<circle cx="1396.7" cy="583.5" r="6.94"/>
<circle cx="1397" cy="582.4" r="6.94"/>
<circle cx="1397.3" cy="581.4" r="6.94"/>
<circle cx="1397.6" cy="580.3" r="6.94"/>
<circle cx="1398" cy="579.3" r="6.94"/>
<circle cx="1398.3" cy="578.2" r="6.94"/>
<circle cx="1398.6" cy="577.2" r="6.94"/>
<circle cx="1398.9" cy="576.3" r="6.94"/>
<circle cx="1399.2" cy="575.3" r="6.94"/>
<circle cx="1399.5" cy="574.4" r="6.94"/>
<circle cx="1399.8" cy="573.5" r="6.94"/>
<circle cx="1400.1" cy="572.6" r="6.94"/>
<circle cx="1400.4" cy="571.7" r="6.94"/>
<circle cx="1400.7" cy="570.8" r="6.94"/>
<circle cx="1401" cy="570" r="6.94"/>
<circle cx="1401.3" cy="569.1" r="6.94"/>
<circle cx="1401.6" cy="568.3" r="6.94"/>
<circle cx="1401.9" cy="567.5" r="6.94"/>
<circle cx="1402.2" cy="566.7" r="6.94"/>
<circle cx="1402.5" cy="565.9" r="6.94"/>
<circle cx="1402.8" cy="565.2" r="6.94"/>
<circle cx="1403.1" cy="564.5" r="6.94"/>
<circle cx="1403.4" cy="563.7" r="6.94"/>
<circle cx="1403.7" cy="563" r="6.94"/>
<circle cx="1404" cy="562.3" r="6.94"/>
<circle cx="1404.4" cy="561.6" r="6.94"/>
<circle cx="1404.7" cy="560.9" r="6.94"/>
<circle cx="1405" cy="560.3" r="6.94"/>
<circle cx="1405.3" cy="559.6" r="6.94"/>
<circle cx="1405.6" cy="559" r="6.94"/>
<circle cx="1405.9" cy="558.4" r="6.94"/>
<circle cx="1406.3" cy="557.9" r="6.94"/>
<circle cx="1406.6" cy="557.3" r="6.94"/>
<circle cx="1406.9" cy="556.8" r="6.94"/>
<circle cx="1407.2" cy="556.2" r="6.94"/>
<circle cx="1407.6" cy="555.7" r="6.94"/>
<circle cx="1407.9" cy="555.2" r="6.94"/>
<circle cx="1408.2" cy="554.7" r="6.94"/>
<circle cx="1408.5" cy="554.3" r="6.94"/>
<circle cx="1408.9" cy="553.8" r="6.94"/>
<circle cx="1409.2" cy="553.4" r="6.94"/>
<circle cx="1409.5" cy="553" r="6.94"/>
<circle cx="1409.8" cy="552.6" r="6.94"/>
<circle cx="1410.2" cy="552.2" r="6.94"/>
<circle cx="1410.5" cy="551.8" r="6.94"/>
<circle cx="1410.8" cy="551.4" r="6.94"/>
<circle cx="1411.2" cy="551.1" r="6.94"/>
<circle cx="1411.5" cy="550.8" r="6.94"/>
<circle cx="1411.8" cy="550.5" r="6.94"/>
<circle cx="1412.1" cy="550.3" r="6.94"/>
<circle cx="1412.4" cy="550" r="6.94"/>
<circle cx="1412.7" cy="549.8" r="6.94"/>
<circle cx="1413" cy="549.6" r="6.94"/>
<circle cx="1413.3" cy="549.4" r="6.94"/>
<circle cx="1413.6" cy="549.2" r="6.94"/>
<circle cx="1414" cy="549" r="6.94"/>
<circle cx="1414.3" cy="548.8" r="6.94"/>
<circle cx="1414.7" cy="548.6" r="6.94"/>
<circle cx="1415" cy="548.5" r="6.94"/>
<circle cx="1415.3" cy="548.3" r="6.94"/>
<circle cx="1415.7" cy="548.2" r="6.94"/>
<circle cx="1416" cy="548.1" r="6.94"/>
<circle cx="1416.4" cy="548.1" r="6.94"/>
<circle cx="1416.7" cy="548" r="6.94"/>
<circle cx="1417" cy="548" r="6.94"/>
<circle cx="1417.4" cy="547.9" r="6.94"/>
<circle cx="1417.6" cy="547.9" r="6.94"/>
<circle cx="1418" cy="547.9" r="6.94"/>
<circle cx="1418.3" cy="548" r="6.94"/>
<circle cx="1418.6" cy="548" r="6.94"/>
<circle cx="1419" cy="548.1" r="6.94"/>
<circle cx="1419.3" cy="548.1" r="6.94"/>
<circle cx="1419.6" cy="548.2" r="6.94"/>
<circle cx="1419.9" cy="548.2" r="6.94"/>
<circle cx="1420.2" cy="548.3" r="6.94"/>
<circle cx="1420.5" cy="548.4" r="6.94"/>
<circle cx="1420.8" cy="548.5" r="6.94"/>
<circle cx="1421.1" cy="548.6" r="6.94"/>
<circle cx="1421.4" cy="548.8" r="6.94"/>
<circle cx="1421.8" cy="548.9" r="6.94"/>
<circle cx="1422.1" cy="549.1" r="6.94"/>
<circle cx="1422.4" cy="549.2" r="6.94"/>
<circle cx="1422.6" cy="549.4" r="6.94"/>
<circle cx="1422.9" cy="549.6" r="6.94"/>
<circle cx="1423.2" cy="549.7" r="6.94"/>
<circle cx="1423.4" cy="549.9" r="6.94"/>
<circle cx="1423.7" cy="550.1" r="6.94"/>
<circle cx="1423.9" cy="550.3" r="6.94"/>
<circle cx="1424.2" cy="550.6" r="6.94"/>
<circle cx="1424.4" cy="550.8" r="6.94"/>
<circle cx="1424.7" cy="551.1" r="6.94"/>
<circle cx="1424.9" cy="551.3" r="6.94"/>
<circle cx="1425.2" cy="551.6" r="6.94"/>
<circle cx="1425.4" cy="551.9" r="6.94"/>
<circle cx="1425.6" cy="552.2" r="6.94"/>
<circle cx="1425.9" cy="552.5" r="6.94"/>
<circle cx="1426.1" cy="552.8" r="6.94"/>
<circle cx="1426.2" cy="553.1" r="6.94"/>
<circle cx="1426.4" cy="553.3" r="6.94"/>
<circle cx="1426.6" cy="553.6" r="6.94"/>
<circle cx="1426.8" cy="553.8" r="6.94"/>
<circle cx="1426.9" cy="554.1" r="6.94"/>
<circle cx="1427.1" cy="554.4" r="6.94"/>
<circle cx="1427.3" cy="554.7" r="6.94"/>
<circle cx="1427.5" cy="555" r="6.94"/>
<circle cx="1427.6" cy="555.3" r="6.94"/>
<circle cx="1427.8" cy="555.6" r="6.94"/>
<circle cx="1428" cy="555.9" r="6.94"/>
<circle cx="1428.2" cy="556.2" r="6.94"/>
<circle cx="1428.3" cy="556.5" r="6.94"/>
<circle cx="1428.4" cy="556.7" r="6.94"/>
<circle cx="1428.6" cy="557" r="6.94"/>
<circle cx="1428.7" cy="557.3" r="6.94"/>
<circle cx="1428.9" cy="557.6" r="6.94"/>
<circle cx="1429" cy="557.9" r="6.94"/>
<circle cx="1429.2" cy="558.2" r="6.94"/>
<circle cx="1429.3" cy="558.5" r="6.94"/>
<circle cx="1429.5" cy="558.8" r="6.94"/>
<circle cx="1429.6" cy="559.1" r="6.94"/>
<circle cx="1429.8" cy="559.4" r="6.94"/>
<circle cx="1429.9" cy="559.7" r="6.94"/>
<circle cx="1430" cy="560" r="6.94"/>
<circle cx="1430.1" cy="560.3" r="6.94"/>
<circle cx="1430.3" cy="560.5" r="6.94"/>
<circle cx="1430.4" cy="560.8" r="6.94"/>
<circle cx="1430.5" cy="561.1" r="6.94"/>
<circle cx="1430.6" cy="561.4" r="6.94"/>
<circle cx="1430.8" cy="561.7" r="6.94"/>
<circle cx="1430.9" cy="562" r="6.94"/>
<circle cx="1431" cy="562.3" r="6.94"/>
<circle cx="1431.1" cy="562.7" r="6.94"/>
<circle cx="1431.3" cy="563" r="6.94"/>
<circle cx="1431.4" cy="563.3" r="6.94"/>
<circle cx="1431.5" cy="563.6" r="6.94"/>
<circle cx="1431.6" cy="563.9" r="6.94"/>
<circle cx="1431.8" cy="564.3" r="6.94"/>
<circle cx="1431.9" cy="564.6" r="6.94"/>
<circle cx="1432" cy="564.9" r="6.94"/>
<circle cx="1432.1" cy="565.3" r="6.94"/>
<circle cx="1432.2" cy="565.6" r="6.94"/>
<circle cx="1432.3" cy="565.8" r="6.94"/>
<circle cx="1432.4" cy="566.1" r="6.94"/>
<circle cx="1432.5" cy="566.4" r="6.94"/>
<circle cx="1432.7" cy="566.7" r="6.94"/>
<circle cx="1432.8" cy="567" r="6.94"/>
<circle cx="1432.9" cy="567.3" r="6.94"/>
<circle cx="1433" cy="567.6" r="6.94"/>
<circle cx="1433.1" cy="567.9" r="6.94"/>
<circle cx="1433.2" cy="568.2" r="6.94"/>
<circle cx="1433.3" cy="568.5" r="6.94"/>
<circle cx="1433.4" cy="568.8" r="6.94"/>
<circle cx="1433.5" cy="569.1" r="6.94"/>
<circle cx="1433.6" cy="569.4" r="6.94"/>
<circle cx="1433.7" cy="569.7" r="6.94"/>
<circle cx="1433.8" cy="570" r="6.94"/>
<circle cx="1433.9" cy="570.3" r="6.94"/>
<circle cx="1434" cy="570.6" r="6.94"/>
<circle cx="1434.1" cy="570.9" r="6.94"/>
<circle cx="1434.2" cy="571.2" r="6.94"/>
<circle cx="1434.3" cy="571.6" r="6.94"/>
<circle cx="1434.4" cy="571.9" r="6.94"/>
<circle cx="1434.5" cy="572.2" r="6.94"/>
<circle cx="1434.6" cy="572.5" r="6.94"/>
<circle cx="1434.7" cy="572.8" r="6.94"/>
<circle cx="1434.8" cy="573.1" r="6.94"/>
<circle cx="1434.9" cy="573.5" r="6.94"/>
<circle cx="1435" cy="573.8" r="6.94"/>
<circle cx="1435.1" cy="574.1" r="6.94"/>
<circle cx="1435.2" cy="574.4" r="6.94"/>
<circle cx="1435.3" cy="574.7" r="6.94"/>
<circle cx="1435.4" cy="575" r="6.94"/>
<circle cx="1435.5" cy="575.3" r="6.94"/>
<circle cx="1435.6" cy="575.6" r="6.94"/>
<circle cx="1435.7" cy="575.9" r="6.94"/>
<circle cx="1435.8" cy="576.2" r="6.94"/>
<circle cx="1435.9" cy="576.5" r="6.94"/>
<circle cx="1436" cy="576.8" r="6.94"/>
<circle cx="1436" cy="577.1" r="6.94"/>
<circle cx="1436.1" cy="577.4" r="6.94"/>
<circle cx="1436.2" cy="577.7" r="6.94"/>
<circle cx="1436.3" cy="578" r="6.94"/>
<circle cx="1436.4" cy="578.3" r="6.94"/>
<circle cx="1436.5" cy="578.6" r="6.94"/>
<circle cx="1436.6" cy="579" r="6.94"/>
<circle cx="1436.7" cy="579.3" r="6.94"/>
<circle cx="1436.8" cy="579.6" r="6.94"/>
<circle cx="1436.9" cy="579.9" r="6.94"/>
<circle cx="1437" cy="580.2" r="6.94"/>
<circle cx="1437.1" cy="580.5" r="6.94"/>
<circle cx="1437.1" cy="580.8" r="6.94"/>
<circle cx="1437.2" cy="581.2" r="6.94"/>
<circle cx="1437.3" cy="581.5" r="6.94"/>
<circle cx="1437.4" cy="581.8" r="6.94"/>
<circle cx="1437.5" cy="582.1" r="6.94"/>
<circle cx="1437.6" cy="582.4" r="6.94"/>
<circle cx="1437.7" cy="582.7" r="6.94"/>
<circle cx="1437.8" cy="583.1" r="6.94"/>
<circle cx="1437.9" cy="583.4" r="6.94"/>
<circle cx="1437.9" cy="583.7" r="6.94"/>
<circle cx="1438" cy="584" r="6.94"/>
<circle cx="1438.1" cy="584.3" r="6.94"/>
<circle cx="1438.2" cy="584.6" r="6.94"/>
<circle cx="1438.3" cy="584.9" r="6.94"/>
<circle cx="1438.4" cy="585.2" r="6.94"/>
<circle cx="1438.5" cy="585.5" r="6.94"/>
<circle cx="1438.5" cy="585.8" r="6.94"/>
<circle cx="1438.6" cy="586.1" r="6.94"/>
<circle cx="1438.7" cy="586.5" r="6.94"/>
<circle cx="1438.8" cy="586.8" r="6.94"/>
<circle cx="1438.9" cy="587" r="6.94"/>
<circle cx="1439" cy="587.3" r="6.94"/>
<circle cx="1439" cy="587.6" r="6.94"/>
<circle cx="1439.1" cy="587.9" r="6.94"/>
<circle cx="1439.2" cy="588.2" r="6.94"/>
<circle cx="1439.3" cy="588.6" r="6.94"/>
<circle cx="1439.4" cy="588.9" r="6.94"/>
<circle cx="1439.5" cy="589.2" r="6.94"/>
<circle cx="1439.6" cy="589.5" r="6.94"/>
<circle cx="1439.6" cy="589.8" r="6.94"/>
<circle cx="1439.7" cy="590.1" r="6.94"/>
<circle cx="1439.8" cy="590.5" r="6.94"/>
<circle cx="1439.9" cy="590.8" r="6.94"/>
<circle cx="1440" cy="591.2" r="6.94"/>
<circle cx="1440.1" cy="591.5" r="6.94"/>
<circle cx="1440.2" cy="591.8" r="6.94"/>
<circle cx="1440.3" cy="592.1" r="6.94"/>
<circle cx="1440.4" cy="592.4" r="6.94"/>
<circle cx="1440.4" cy="592.8" r="6.94"/>
<circle cx="1440.5" cy="593.1" r="6.94"/>
<circle cx="1440.6" cy="593.4" r="6.94"/>
<circle cx="1440.7" cy="593.7" r="6.94"/>
<circle cx="1440.8" cy="594" r="6.94"/>
<circle cx="1440.9" cy="594.3" r="6.94"/>
<circle cx="1440.9" cy="594.6" r="6.94"/>
<circle cx="1441" cy="594.9" r="6.94"/>
<circle cx="1441.1" cy="595.2" r="6.94"/>
<circle cx="1441.2" cy="595.5" r="6.94"/>
<circle cx="1441.2" cy="595.8" r="6.94"/>
<circle cx="1441.3" cy="596.1" r="6.94"/>
<circle cx="1441.4" cy="596.4" r="6.94"/>
<circle cx="1441.5" cy="596.7" r="6.94"/>
<circle cx="1441.6" cy="597" r="6.94"/>
<circle cx="1441.6" cy="597.3" r="6.94"/>
<circle cx="1441.7" cy="597.6" r="6.94"/>
<circle cx="1441.8" cy="597.9" r="6.94"/>
<circle cx="1441.9" cy="598.3" r="6.94"/>
<circle cx="1441.9" cy="598.6" r="6.94"/>
<circle cx="1442" cy="598.9" r="6.94"/>
<circle cx="1442.1" cy="599.2" r="6.94"/>
<circle cx="1442.2" cy="599.6" r="6.94"/>
<circle cx="1442.3" cy="599.9" r="6.94"/>
<circle cx="1442.3" cy="600.2" r="6.94"/>
<circle cx="1442.4" cy="600.5" r="6.94"/>
<circle cx="1442.5" cy="600.8" r="6.94"/>
<circle cx="1442.5" cy="601.1" r="6.94"/>
<circle cx="1442.6" cy="601.5" r="6.94"/>
<circle cx="1442.7" cy="601.8" r="6.94"/>
<circle cx="1442.7" cy="602.1" r="6.94"/>
<circle cx="1442.8" cy="602.4" r="6.94"/>
<circle cx="1442.9" cy="602.8" r="6.94"/>
<circle cx="1442.9" cy="603.1" r="6.94"/>
<circle cx="1443" cy="603.5" r="6.94"/>
<circle cx="1443.1" cy="603.9" r="6.94"/>
<circle cx="1443.1" cy="604.2" r="6.94"/>
<circle cx="1442.6" cy="602" r="6.94"/>
<circle cx="1442.6" cy="602.2" r="6.94"/>
<circle cx="1442.7" cy="602.5" r="6.94"/>
<circle cx="1442.8" cy="602.8" r="6.94"/>
<circle cx="1442.8" cy="603" r="6.94"/>
<circle cx="1442.8" cy="603.2" r="6.94"/>
<circle cx="1442.9" cy="603.5" r="6.94"/>
<circle cx="1442.9" cy="603.8" r="6.94"/>
<circle cx="1443" cy="604" r="6.94"/>
<circle cx="1443" cy="604.2" r="6.94"/>
</g>
<g fill="#008000" fill-opacity=".5" stroke="#008000" stroke-opacity=".5" stroke-width="1.39">
<circle cx="1025.6" cy="425" r="5.7"/>
<circle cx="1025.6" cy="427" r="5.7"/>
<circle cx="1025.6" cy="429" r="5.7"/>
<circle cx="1025.6" cy="431" r="5.7"/>
<circle cx="1025.6" cy="433" r="5.7"/>
<circle cx="1025.6" cy="435" r="5.7"/>
<circle cx="1025.6" cy="448" r="5.7"/>
<circle cx="1025.6" cy="457" r="5.7"/>
<circle cx="1025.6" cy="463" r="5.7"/>
<circle cx="1026" cy="468" r="5.7"/>
<circle cx="1026" cy="470" r="5.7"/>
<circle cx="1026" cy="472" r="5.7"/>
<circle cx="1026" cy="474" r="5.7"/>
<circle cx="1026" cy="476" r="5.7"/>
<circle cx="1026.1" cy="478" r="5.7"/>
<circle cx="1026.1" cy="480" r="5.7"/>
<circle cx="1026.1" cy="482" r="5.7"/>
<circle cx="1026.1" cy="484" r="5.7"/>
<circle cx="1026.1" cy="486" r="5.7"/>
<circle cx="1026.1" cy="488" r="5.7"/>
<circle cx="1026.1" cy="490" r="5.7"/>
<circle cx="1026.1" cy="492" r="5.7"/>
<circle cx="1026.2" cy="494" r="5.7"/>
<circle cx="1026.2" cy="496" r="5.7"/>
<circle cx="1026.2" cy="498" r="5.7"/>
<circle cx="1026.2" cy="500" r="5.7"/>
<circle cx="1026.2" cy="502" r="5.7"/>
<circle cx="1026.2" cy="504" r="5.7"/>
<circle cx="1026.2" cy="506" r="5.7"/>
<circle cx="1026.2" cy="508" r="5.7"/>
<circle cx="1026.2" cy="510" r="5.7"/>
<circle cx="1026.3" cy="512" r="5.7"/>
<circle cx="1026.3" cy="514" r="5.7"/>
<circle cx="1026.3" cy="516" r="5.7"/>
<circle cx="1026.3" cy="518" r="5.7"/>
<circle cx="1026.3" cy="520" r="5.7"/>
<circle cx="1026.3" cy="522" r="5.7"/>
<circle cx="1026.3" cy="524" r="5.7"/>
<circle cx="1026.3" cy="526" r="5.7"/>
<circle cx="1026.4" cy="528" r="5.7"/>
<circle cx="1026.4" cy="530" r="5.7"/>
<circle cx="1026.4" cy="532" r="5.7"/>
<circle cx="1026.4" cy="534" r="5.7"/>
<circle cx="1026.4" cy="536" r="5.7"/>
<circle cx="1026.4" cy="538" r="5.7"/>
<circle cx="1026.4" cy="540" r="5.7"/>
<circle cx="1026.4" cy="542" r="5.7"/>
<circle cx="1026.4" cy="544" r="5.7"/>
<circle cx="1026.5" cy="546" r="5.7"/>
<circle cx="1026.5" cy="548" r="5.7"/>
<circle cx="1026.5" cy="550" r="5.7"/>
<circle cx="1026.5" cy="552" r="5.7"/>
<circle cx="1026.5" cy="554" r="5.7"/>
<circle cx="1026.5" cy="556" r="5.7"/>
<circle cx="1026.5" cy="558" r="5.7"/>
<circle cx="1026.5" cy="560" r="5.7"/>
<circle cx="1026.6" cy="562" r="5.7"/>
<circle cx="1026.6" cy="564" r="5.7"/>
<circle cx="1026.6" cy="566" r="5.7"/>
<circle cx="1026.6" cy="568" r="5.7"/>
<circle cx="1026.6" cy="570" r="5.7"/>
<circle cx="1026.6" cy="572" r="5.7"/>
<circle cx="1026.6" cy="574" r="5.7"/>
<circle cx="1026.6" cy="576" r="5.7"/>
<circle cx="1026.6" cy="578" r="5.7"/>
<circle cx="1026.7" cy="580" r="5.7"/>
<circle cx="1026.7" cy="582" r="5.7"/>
<circle cx="1026.7" cy="584" r="5.7"/>
<circle cx="1026.7" cy="586" r="5.7"/>
<circle cx="1026.7" cy="588" r="5.7"/>
<circle cx="1026.7" cy="590" r="5.7"/>
<circle cx="1026.7" cy="592" r="5.7"/>
<circle cx="1026.7" cy="594" r="5.7"/>
<circle cx="1026.8" cy="596" r="5.7"/>
<circle cx="1026.8" cy="598" r="5.7"/>
<circle cx="1026.8" cy="600" r="5.7"/>
<circle cx="1026.8" cy="602" r="5.7"/>
<circle cx="1026.8" cy="604" r="5.7"/>
</g>
</g>
<text font-size="16.67" transform="translate(401.7 777.8) rotate(-85)">n=1</text>
<text font-size="16.67" transform="translate(511.6 811.6) rotate(-85)">n=2</text>
<text font-size="16.67" transform="translate(628.5 706.5) rotate(-85)">n=3</text>
<text font-size="16.67" transform="translate(755.7 633.2) rotate(-85)">n=4</text>
<text font-size="16.67" transform="translate(895.2 491.5) rotate(-85)">n=5</text>
<text font-size="16.67" transform="translate(1037.7 383.8) rotate(-85)">n=6</text>
<text font-size="16.67" transform="translate(1186.9 220) rotate(-85)">n=7</text>
<text font-size="16.67" transform="translate(1338.7 213) rotate(-85)">n=8</text>
<g stroke="#000" stroke-width="1.11" fill="none">
<path d="M337.5 1068.5v4.86M525.5 1068.5v4.86M713.5 1068.5v4.86M901.5 1068.5v4.86M1089.5 1068.5v4.86M1277.5 1068.5v4.86M1465.5 1068.5v4.86M225.5 1055.5h-4.86M225.5 928.5h-4.86M225.5 800.5h-4.86M225.5 673.5h-4.86M225.5 546.5h-4.86M225.5 418.5h-4.86M225.5 291.5h-4.86M225.5 164.5h-4.86"/>
<rect x="225.5" y="144.5" width="1395" height="924"/>
</g>
<g font-size="13.89" text-anchor="middle">
<text x="337.5" y="1089.1">9967.5</text>
<text x="525.5" y="1089.1">9967.6</text>
<text x="713.5" y="1089.1">9967.7</text>
<text x="901.5" y="1089.1">9967.8</text>
<text x="1089.5" y="1089.1">9967.9</text>
<text x="1277.5" y="1089.1">9968.0</text>
<text x="1465.5" y="1089.1">9968.1</text>
</g>
<g font-size="13.89" text-anchor="end">
<text x="215.28" y="1059.90">0</text>
<text x="215.28" y="933.40">100</text>
<text x="215.28" y="806.00">200</text>
<text x="215.28" y="678.80">300</text>
<text x="215.28" y="551.40">400</text>
<text x="215.28" y="424.00">500</text>
<text x="215.28" y="296.80">600</text>
<text x="215.28" y="169.40">700</text>
</g>
<text font-size="41.67" text-anchor="middle" x="922.5" y="1128.38">Age (Myr)</text>
<text font-size="41.67" text-anchor="middle" transform="translate(172.3 606.9) rotate(-90)">O1 period (days)</text>
<rect x="235.42" y="154.42" width="445.47" height="244.21" rx="4.17" ry="4.17" fill="#fff" fill-opacity=".8" stroke="#ccc" stroke-opacity=".8" stroke-width="1.39"/>
<path d="M243.75 171.29H285.42" stroke="#000" stroke-width="2.08" stroke-linecap="square" fill="none"/>
<circle cx="265.48" cy="171.49" r="2.08" fill="#000" stroke="#000" stroke-width="1.39"/>
<path d="M243.75 202.92H285.42" stroke="#00f" stroke-width="4.17" stroke-linecap="square" fill="none"/>
<path d="M243.75 233.03H285.42" stroke="#008000" stroke-width="4.17" stroke-linecap="square" fill="none"/>
<path d="M243.75 263.61H285.42" stroke="#ffa500" stroke-width="2.08" stroke-linecap="square" fill="none"/>
<circle cx="265.48" cy="294.50" r="3.65" fill="#90ee90" stroke="#90ee90" stroke-width="1.39"/>
<path d="M243.75 324.76H285.42" stroke="#f00" stroke-width="2.08" stroke-linecap="square" fill="none"/>
<path d="M265.48 304.63 L270.16 319.03 L285.29 319.03 L273.05 327.92 L277.73 342.32 L265.48 333.42 L253.24 342.32 L257.92 327.92 L245.67 319.03 L260.81 319.03Z" fill="#f00" stroke="#f00" stroke-width="1.39" stroke-linejoin="bevel"/>
<circle cx="265.58" cy="369.50" r="6.94" fill="#ff0" fill-opacity=".2" stroke="#ff0" stroke-opacity=".2" stroke-width="1.39"/>
<g font-size="20.83">
<text x="302.08" y="178.58">m1.10_z0.0344</text>
<text x="302.08" y="209.74">peak detector horizontal bounds</text>
<text x="302.08" y="240.83">min. P consistent with observations</text>
<text x="302.08" y="270.90">max. P must fall within this span</text>
<text x="302.08" y="301.48">pulse region fit with cubic spline</text>
<text x="302.08" y="332.06">pulses identified</text>
<text x="302.08" y="361.67">intersection w/ P,L,T,R</text>
<text x="302.08" y="385.00">loosely defined</text>
</g>
</svg></body></html>
